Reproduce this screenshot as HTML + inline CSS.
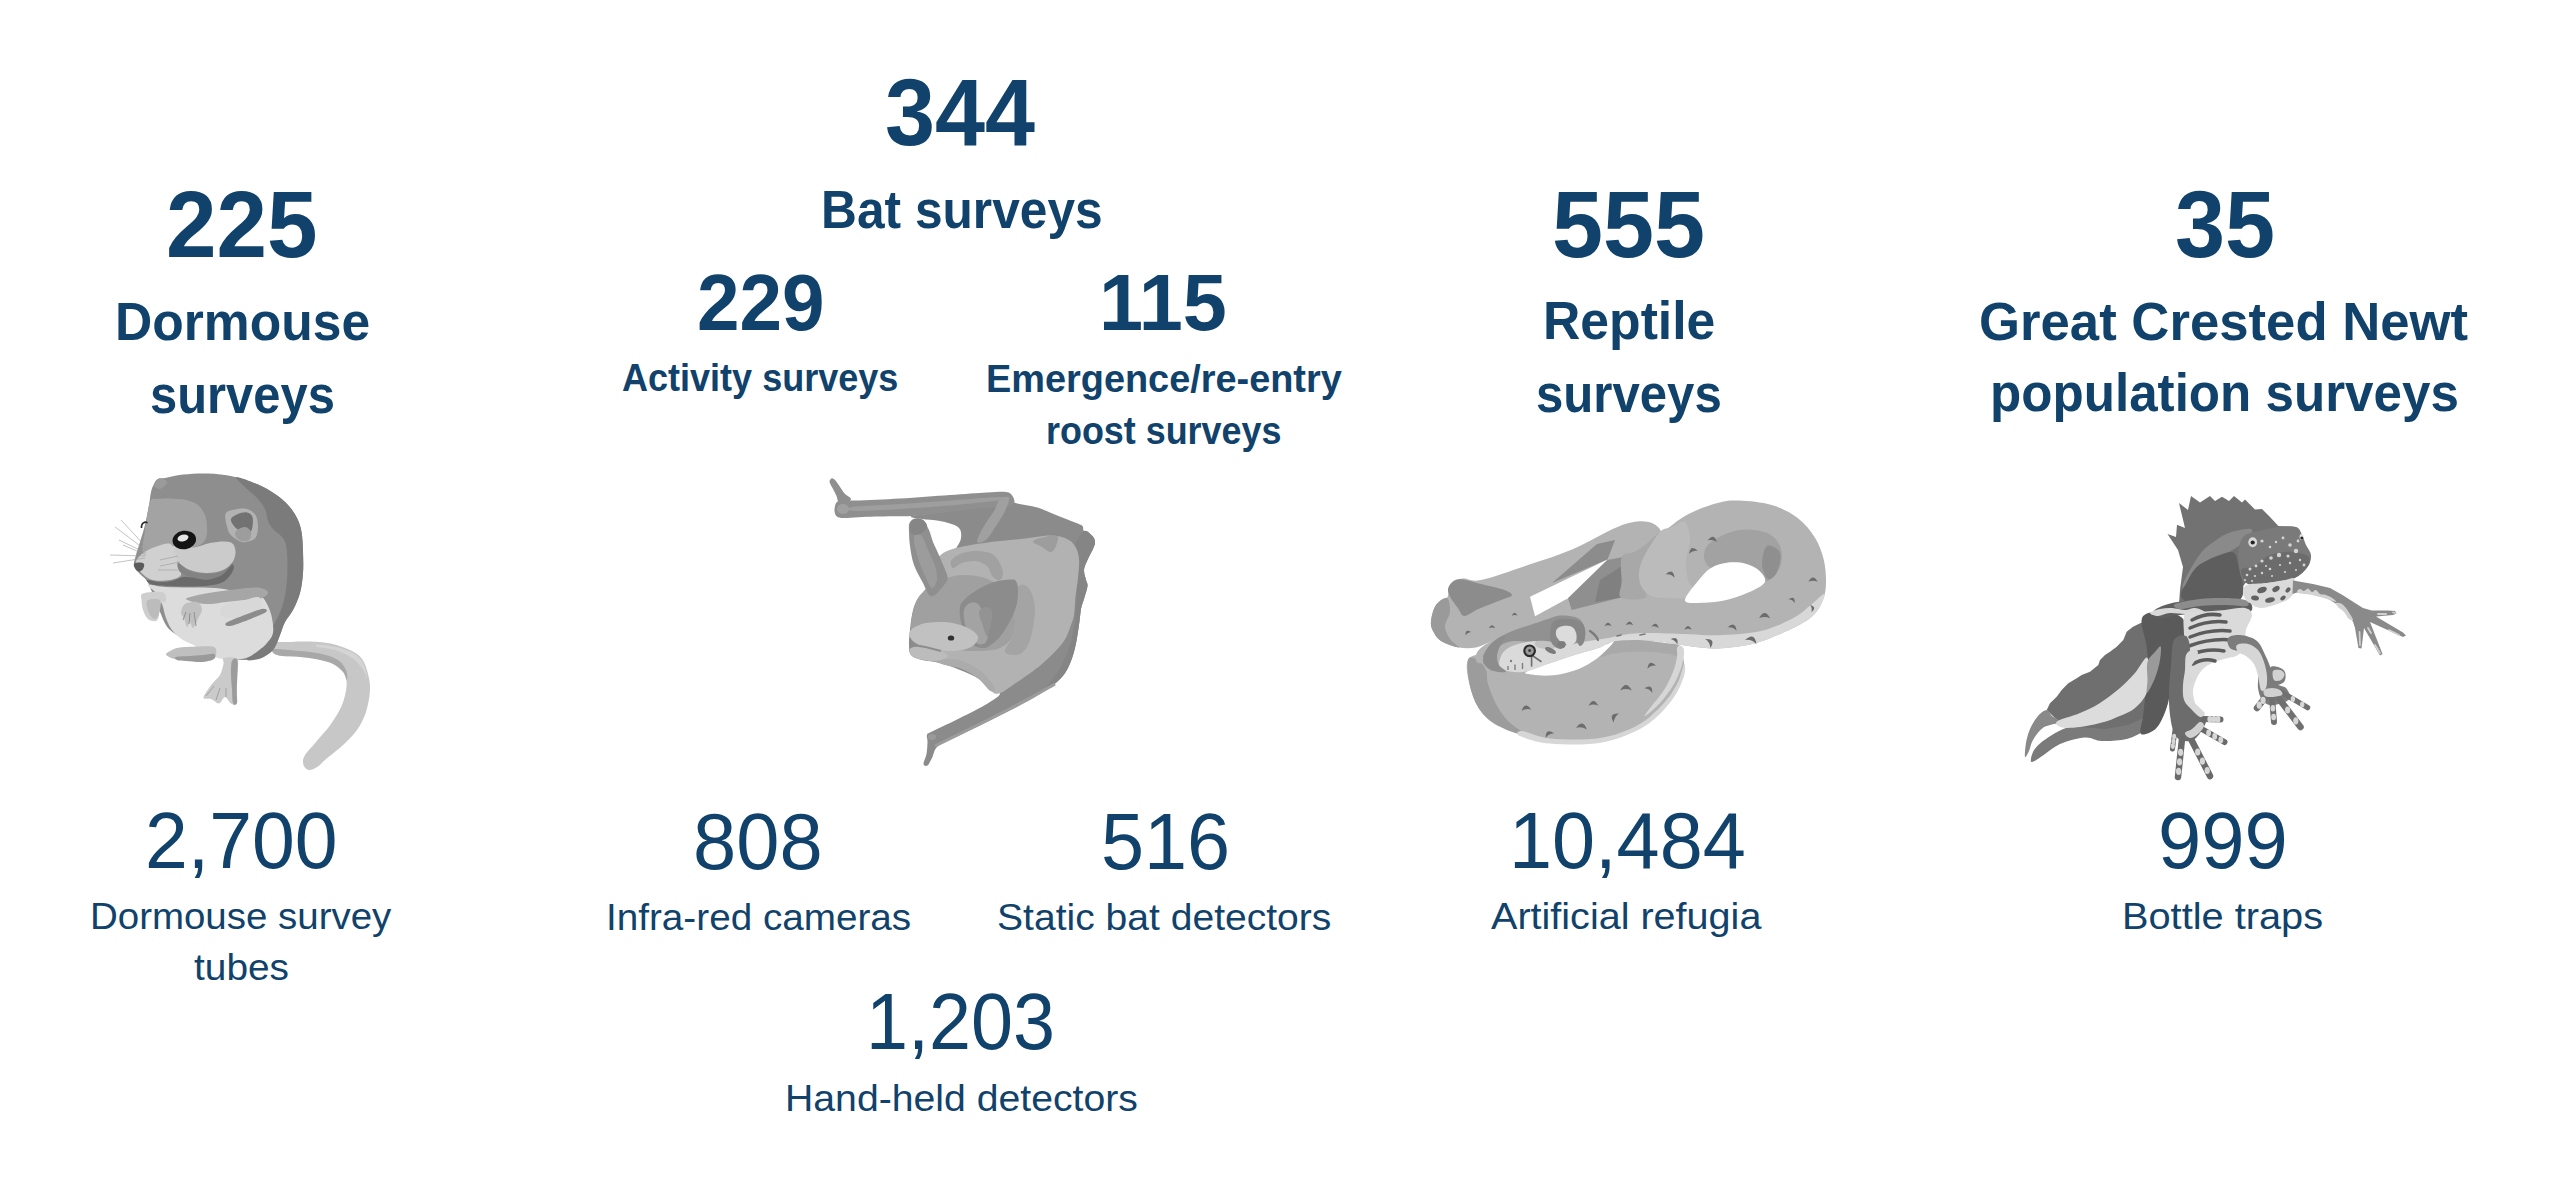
<!DOCTYPE html>
<html><head><meta charset="utf-8"><title>Survey statistics</title>
<style>
html,body{margin:0;padding:0;background:#fff;}
body{width:2560px;height:1199px;position:relative;overflow:hidden;font-family:"Liberation Sans",sans-serif;color:#10426b;}
.b,.r{position:absolute;white-space:nowrap;line-height:1;transform-origin:0 0;}
.b{font-weight:bold;}
.r{font-weight:normal;}
svg{position:absolute;}
</style></head><body>
<div class="b" style="left:885.2px;top:64.6px;font-size:95.0px;transform:scaleX(0.9460)">344</div>
<div class="b" style="left:165.9px;top:176.9px;font-size:95.0px;transform:scaleX(0.9558)">225</div>
<div class="b" style="left:1552.2px;top:176.6px;font-size:95.0px;transform:scaleX(0.9663)">555</div>
<div class="b" style="left:2175.0px;top:176.6px;font-size:95.0px;transform:scaleX(0.9468)">35</div>
<div class="b" style="left:821.0px;top:182.7px;font-size:53.6px;transform:scaleX(0.9272)">Bat surveys</div>
<div class="b" style="left:114.5px;top:295.0px;font-size:53.6px;transform:scaleX(0.9629)">Dormouse</div>
<div class="b" style="left:149.5px;top:367.6px;font-size:53.6px;transform:scaleX(0.9121)">surveys</div>
<div class="b" style="left:1542.7px;top:294.4px;font-size:53.6px;transform:scaleX(0.9645)">Reptile</div>
<div class="b" style="left:1536.0px;top:366.6px;font-size:53.6px;transform:scaleX(0.9166)">surveys</div>
<div class="b" style="left:1978.7px;top:295.1px;font-size:53.6px;transform:scaleX(0.9834)">Great Crested Newt</div>
<div class="b" style="left:1989.9px;top:365.6px;font-size:53.6px;transform:scaleX(0.9542)">population surveys</div>
<div class="b" style="left:696.5px;top:263.1px;font-size:79.0px;transform:scaleX(0.9678)">229</div>
<div class="b" style="left:1099.2px;top:263.1px;font-size:79.0px;transform:scaleX(1.0030)">115</div>
<div class="b" style="left:621.8px;top:359.2px;font-size:38.8px;transform:scaleX(0.9287)">Activity surveys</div>
<div class="b" style="left:985.7px;top:359.7px;font-size:38.8px;transform:scaleX(0.9763)">Emergence/re-entry</div>
<div class="b" style="left:1045.8px;top:412.2px;font-size:38.8px;transform:scaleX(0.9253)">roost surveys</div>
<div class="r" style="left:145.2px;top:800.8px;font-size:79.7px;transform:scaleX(0.9658)">2,700</div>
<div class="r" style="left:693.2px;top:801.5px;font-size:79.7px;transform:scaleX(0.9747)">808</div>
<div class="r" style="left:1100.5px;top:801.5px;font-size:79.7px;transform:scaleX(0.9716)">516</div>
<div class="r" style="left:1508.6px;top:801.2px;font-size:79.7px;transform:scaleX(0.9712)">10,484</div>
<div class="r" style="left:2157.9px;top:801.2px;font-size:79.7px;transform:scaleX(0.9753)">999</div>
<div class="r" style="left:866.4px;top:982.3px;font-size:79.7px;transform:scaleX(0.9482)">1,203</div>
<div class="r" style="left:90.2px;top:898.2px;font-size:37.6px;transform:scaleX(1.0232)">Dormouse survey</div>
<div class="r" style="left:193.6px;top:949.0px;font-size:37.6px;transform:scaleX(1.0334)">tubes</div>
<div class="r" style="left:605.8px;top:898.8px;font-size:37.6px;transform:scaleX(1.0290)">Infra-red cameras</div>
<div class="r" style="left:997.4px;top:898.8px;font-size:37.6px;transform:scaleX(1.0394)">Static bat detectors</div>
<div class="r" style="left:1491.3px;top:898.2px;font-size:37.6px;transform:scaleX(1.0526)">Artificial refugia</div>
<div class="r" style="left:2121.8px;top:898.2px;font-size:37.6px;transform:scaleX(1.0578)">Bottle traps</div>
<div class="r" style="left:784.7px;top:1080.2px;font-size:37.6px;transform:scaleX(1.0429)">Hand-held detectors</div>
<svg style="left:0;top:0" width="2560" height="1199" viewBox="0 0 2560 1199">
<g><path fill="#c7c7c7" d="M272.0,643.0 C274.3,641.2 281.5,642.2 287.0,642.0 C292.5,641.8 298.2,641.3 305.0,641.5 C311.8,641.7 320.2,641.6 327.7,643.0 C335.2,644.4 344.3,647.3 350.0,650.0 C355.7,652.7 359.0,655.0 362.0,659.0 C365.0,663.0 366.7,668.8 368.0,674.0 C369.3,679.2 370.3,683.7 370.0,690.0 C369.7,696.3 368.2,705.3 366.0,712.0 C363.8,718.7 361.0,724.3 357.0,730.0 C353.0,735.7 347.2,741.2 342.0,746.0 C336.8,750.8 330.0,755.6 326.0,759.0 C322.0,762.4 320.8,764.7 318.0,766.5 C315.2,768.3 311.4,770.2 309.0,770.0 C306.6,769.8 304.2,767.3 303.5,765.0 C302.8,762.7 302.4,759.8 304.5,756.0 C306.6,752.2 311.6,747.3 316.0,742.0 C320.4,736.7 326.7,730.2 331.0,724.0 C335.3,717.8 339.4,711.2 342.0,705.0 C344.6,698.8 346.0,692.0 346.5,687.0 C347.0,682.0 346.2,678.5 345.0,675.0 C343.8,671.5 342.0,668.6 339.0,666.0 C336.0,663.4 332.7,661.1 327.0,659.5 C321.3,657.9 312.3,657.1 305.0,656.5 C297.7,655.9 288.3,656.6 283.0,656.0 C277.7,655.4 274.8,655.2 273.0,653.0 C271.2,650.8 269.7,644.8 272.0,643.0Z"/>
<path fill="#a8a8a8" d="M274.0,649.0 C278.3,648.7 292.0,650.2 300.0,651.0 C308.0,651.8 315.7,652.5 322.0,654.0 C328.3,655.5 334.0,657.3 338.0,660.0 C342.0,662.7 344.5,666.7 346.0,670.0 C347.5,673.3 347.5,679.7 347.0,680.0 C346.5,680.3 345.3,674.7 343.0,672.0 C340.7,669.3 337.2,666.1 333.0,664.0 C328.8,661.9 323.5,660.7 318.0,659.5 C312.5,658.3 306.0,657.6 300.0,657.0 C294.0,656.4 286.3,656.7 282.0,656.0 C277.7,655.3 275.3,654.2 274.0,653.0 C272.7,651.8 269.7,649.3 274.0,649.0Z"/>
<path fill="#d4d4d4" d="M318.0,644.5 C321.7,644.7 333.7,646.2 340.0,648.0 C346.3,649.8 352.0,652.2 356.0,655.0 C360.0,657.8 362.2,661.2 364.0,665.0 C365.8,668.8 367.3,677.5 367.0,678.0 C366.7,678.5 364.5,671.3 362.0,668.0 C359.5,664.7 356.5,661.0 352.0,658.0 C347.5,655.0 340.7,651.8 335.0,650.0 C329.3,648.2 320.8,647.9 318.0,647.0 C315.2,646.1 314.3,644.3 318.0,644.5Z"/>
<path fill="#8e8e8e" d="M154.0,484.0 C155.2,481.8 156.2,480.0 158.0,479.0 C159.8,478.0 160.8,478.8 165.0,478.0 C169.2,477.2 175.8,475.2 183.0,474.5 C190.2,473.8 199.7,473.2 208.0,473.5 C216.3,473.8 224.7,474.7 233.0,476.5 C241.3,478.3 251.0,481.6 258.0,484.5 C265.0,487.4 270.0,490.6 275.0,494.0 C280.0,497.4 284.3,501.0 288.0,505.0 C291.7,509.0 294.8,513.5 297.0,518.0 C299.2,522.5 300.5,526.3 301.5,532.0 C302.5,537.7 302.8,545.2 303.0,552.0 C303.2,558.8 303.5,566.2 303.0,573.0 C302.5,579.8 301.7,586.8 300.0,593.0 C298.3,599.2 295.5,605.2 293.0,610.0 C290.5,614.8 287.2,617.8 285.0,622.0 C282.8,626.2 281.5,631.2 280.0,635.0 C278.5,638.8 277.5,642.2 276.0,645.0 C274.5,647.8 273.7,649.8 271.0,652.0 C268.3,654.2 264.3,657.2 260.0,658.5 C255.7,659.8 250.0,659.9 245.0,660.0 C240.0,660.1 235.0,659.7 230.0,659.0 C225.0,658.3 220.8,658.3 215.0,656.0 C209.2,653.7 202.5,649.3 195.0,645.0 C187.5,640.7 175.8,635.5 170.0,630.0 C164.2,624.5 163.0,618.3 160.0,612.0 C157.0,605.7 154.2,597.2 152.0,592.0 C149.8,586.8 149.0,584.0 147.0,581.0 C145.0,578.0 142.2,576.5 140.0,574.0 C137.8,571.5 134.7,569.2 134.0,566.0 C133.3,562.8 135.0,559.0 136.0,555.0 C137.0,551.0 138.5,547.0 140.0,542.0 C141.5,537.0 143.5,531.2 145.0,525.0 C146.5,518.8 148.0,510.5 149.0,505.0 C150.0,499.5 150.2,495.5 151.0,492.0 C151.8,488.5 152.8,486.2 154.0,484.0Z"/>
<path fill="#7b7b7b" d="M236.0,477.0 C237.8,476.2 251.5,481.7 258.0,484.5 C264.5,487.3 270.0,490.6 275.0,494.0 C280.0,497.4 284.3,501.0 288.0,505.0 C291.7,509.0 294.8,513.5 297.0,518.0 C299.2,522.5 300.5,526.3 301.5,532.0 C302.5,537.7 302.8,545.2 303.0,552.0 C303.2,558.8 303.5,566.2 303.0,573.0 C302.5,579.8 301.7,586.8 300.0,593.0 C298.3,599.2 295.5,605.2 293.0,610.0 C290.5,614.8 287.2,617.8 285.0,622.0 C282.8,626.2 281.5,631.2 280.0,635.0 C278.5,638.8 277.5,642.2 276.0,645.0 C274.5,647.8 273.7,649.8 271.0,652.0 C268.3,654.2 264.0,657.2 260.0,658.5 C256.0,659.8 248.3,661.1 247.0,660.0 C245.7,658.9 249.5,655.0 252.0,652.0 C254.5,649.0 258.7,646.0 262.0,642.0 C265.3,638.0 268.8,633.3 272.0,628.0 C275.2,622.7 278.7,616.3 281.0,610.0 C283.3,603.7 284.9,597.5 286.0,590.0 C287.1,582.5 287.5,572.5 287.5,565.0 C287.5,557.5 287.1,549.8 286.0,545.0 C284.9,540.2 283.2,538.7 281.0,536.0 C278.8,533.3 275.2,531.5 273.0,529.0 C270.8,526.5 269.3,524.3 268.0,521.0 C266.7,517.7 266.8,512.8 265.0,509.0 C263.2,505.2 260.0,501.3 257.0,498.0 C254.0,494.7 250.5,492.5 247.0,489.0 C243.5,485.5 234.2,477.8 236.0,477.0Z"/>
<path fill="#a3a3a3" d="M150.0,502.0 C152.0,496.8 153.7,499.6 157.0,499.0 C160.3,498.4 165.2,498.3 170.0,498.5 C174.8,498.7 181.3,498.9 186.0,500.0 C190.7,501.1 194.8,502.5 198.0,505.0 C201.2,507.5 203.5,511.3 205.0,515.0 C206.5,518.7 206.8,523.2 207.0,527.0 C207.2,530.8 207.2,535.0 206.0,538.0 C204.8,541.0 203.5,543.3 200.0,545.0 C196.5,546.7 190.0,547.7 185.0,548.0 C180.0,548.3 175.0,547.0 170.0,547.0 C165.0,547.0 159.5,547.2 155.0,548.0 C150.5,548.8 144.7,555.0 143.0,552.0 C141.3,549.0 143.8,538.3 145.0,530.0 C146.2,521.7 148.0,507.2 150.0,502.0Z"/>
<path fill="#cbcbcb" d="M173.0,546.0 C176.4,545.2 186.8,548.0 193.0,547.5 C199.2,547.0 204.7,544.0 210.0,543.0 C215.3,542.0 221.2,541.3 225.0,541.5 C228.8,541.7 231.2,542.1 233.0,544.0 C234.8,545.9 235.7,549.8 235.5,553.0 C235.3,556.2 234.1,560.2 232.0,563.0 C229.9,565.8 227.2,568.3 223.0,570.0 C218.8,571.7 212.5,573.0 207.0,573.0 C201.5,573.0 194.8,571.8 190.0,570.0 C185.2,568.2 180.9,565.0 178.0,562.0 C175.1,559.0 173.3,554.7 172.5,552.0 C171.7,549.3 169.6,546.8 173.0,546.0Z"/>
<path fill="#d0d0d0" d="M136.0,562.0 C136.5,559.0 139.8,555.5 143.0,553.0 C146.2,550.5 150.7,548.6 155.0,547.0 C159.3,545.4 165.8,543.0 169.0,543.5 C172.2,544.0 172.5,546.8 174.0,550.0 C175.5,553.2 176.8,558.8 178.0,563.0 C179.2,567.2 182.3,572.2 181.0,575.0 C179.7,577.8 174.3,579.1 170.0,580.0 C165.7,580.9 158.8,580.9 155.0,580.5 C151.2,580.1 149.5,579.1 147.0,577.5 C144.5,575.9 141.8,573.6 140.0,571.0 C138.2,568.4 135.5,565.0 136.0,562.0Z"/>
<path fill="#838383" d="M178.0,563.0 C179.7,562.8 185.2,569.2 190.0,571.0 C194.8,572.8 201.5,574.0 207.0,574.0 C212.5,574.0 218.8,572.8 223.0,571.0 C227.2,569.2 231.2,563.2 232.5,563.0 C233.8,562.8 232.8,567.7 231.0,570.0 C229.2,572.3 226.0,575.5 222.0,577.0 C218.0,578.5 212.3,579.0 207.0,579.0 C201.7,579.0 194.5,578.2 190.0,577.0 C185.5,575.8 182.0,574.3 180.0,572.0 C178.0,569.7 176.3,563.2 178.0,563.0Z"/>
<path fill="#6a6a6a" d="M147.0,580.0 C148.3,579.6 155.8,581.8 160.0,582.0 C164.2,582.2 168.2,581.8 172.0,581.0 C175.8,580.2 179.2,577.5 183.0,577.0 C186.8,576.5 190.8,577.6 195.0,578.0 C199.2,578.4 203.5,580.0 208.0,579.5 C212.5,579.0 218.0,577.4 222.0,575.0 C226.0,572.6 230.1,566.0 232.0,565.0 C233.9,564.0 234.2,566.8 233.5,569.0 C232.8,571.2 230.6,575.5 228.0,578.0 C225.4,580.5 223.5,582.6 218.0,584.0 C212.5,585.4 203.0,586.2 195.0,586.5 C187.0,586.8 177.2,586.3 170.0,586.0 C162.8,585.7 155.8,585.5 152.0,584.5 C148.2,583.5 145.7,580.4 147.0,580.0Z"/>
<path fill="#dcdcdc" d="M148.0,585.0 C149.5,584.0 158.0,586.6 165.0,587.0 C172.0,587.4 181.7,587.3 190.0,587.5 C198.3,587.7 207.5,587.4 215.0,588.0 C222.5,588.6 228.8,590.0 235.0,591.0 C241.2,592.0 247.5,593.0 252.0,594.0 C256.5,595.0 259.3,595.0 262.0,597.0 C264.7,599.0 266.3,602.5 268.0,606.0 C269.7,609.5 271.2,613.5 272.0,618.0 C272.8,622.5 273.8,628.8 273.0,633.0 C272.2,637.2 269.5,640.0 267.0,643.0 C264.5,646.0 261.5,648.5 258.0,651.0 C254.5,653.5 250.7,656.6 246.0,658.0 C241.3,659.4 235.2,659.7 230.0,659.5 C224.8,659.3 220.0,658.9 215.0,657.0 C210.0,655.1 205.3,650.8 200.0,648.0 C194.7,645.2 187.7,643.0 183.0,640.0 C178.3,637.0 174.8,633.7 172.0,630.0 C169.2,626.3 167.7,622.3 166.0,618.0 C164.3,613.7 163.7,608.2 162.0,604.0 C160.3,599.8 158.3,596.2 156.0,593.0 C153.7,589.8 146.5,586.0 148.0,585.0Z"/>
<path fill="#a6a6a6" d="M186.0,599.0 C186.0,597.7 193.2,596.2 198.0,595.0 C202.8,593.8 208.3,593.0 215.0,592.0 C221.7,591.0 230.8,589.8 238.0,589.0 C245.2,588.2 253.0,587.0 258.0,587.5 C263.0,588.0 267.3,590.2 268.0,592.0 C268.7,593.8 265.8,596.7 262.0,598.0 C258.2,599.3 251.0,599.3 245.0,600.0 C239.0,600.7 231.8,601.3 226.0,602.0 C220.2,602.7 214.7,603.8 210.0,604.0 C205.3,604.2 202.0,603.8 198.0,603.0 C194.0,602.2 186.0,600.3 186.0,599.0Z"/>
<path fill="#d8d8d8" d="M226.0,604.0 C230.2,602.0 239.7,601.2 245.0,600.0 C250.3,598.8 255.2,596.3 258.0,597.0 C260.8,597.7 262.5,601.5 262.0,604.0 C261.5,606.5 258.7,609.8 255.0,612.0 C251.3,614.2 244.8,616.0 240.0,617.0 C235.2,618.0 229.3,618.8 226.0,618.0 C222.7,617.2 220.0,614.3 220.0,612.0 C220.0,609.7 221.8,606.0 226.0,604.0Z"/>
<path fill="#8c8c8c" d="M226.0,623.0 C228.0,621.3 236.0,618.3 242.0,616.0 C248.0,613.7 258.0,609.7 262.0,609.0 C266.0,608.3 268.3,610.2 266.0,612.0 C263.7,613.8 254.0,617.7 248.0,620.0 C242.0,622.3 233.7,625.5 230.0,626.0 C226.3,626.5 224.0,624.7 226.0,623.0Z"/>
<path fill="#c0c0c0" d="M185.0,604.0 C187.7,602.2 194.2,601.2 197.0,602.0 C199.8,602.8 201.8,606.2 202.0,609.0 C202.2,611.8 199.5,615.8 198.0,619.0 C196.5,622.2 194.3,627.5 193.0,628.0 C191.7,628.5 191.0,622.2 190.0,622.0 C189.0,621.8 188.0,627.7 187.0,627.0 C186.0,626.3 185.0,620.3 184.0,618.0 C183.0,615.7 180.8,615.3 181.0,613.0 C181.2,610.7 182.3,605.8 185.0,604.0Z"/>
<path d="M186,612 L183,620 M190,613 L189,624 M194,612 L196,626" stroke="#8a8a8a" stroke-width="0.9" fill="none"/>
<path fill="#cecece" d="M142.0,594.0 C143.8,592.7 148.3,592.2 152.0,592.0 C155.7,591.8 161.7,591.5 164.0,593.0 C166.3,594.5 166.7,599.2 166.0,601.0 C165.3,602.8 161.2,601.7 160.0,604.0 C158.8,606.3 159.7,612.2 159.0,615.0 C158.3,617.8 157.8,620.3 156.0,621.0 C154.2,621.7 150.2,620.8 148.0,619.0 C145.8,617.2 144.1,613.2 143.0,610.0 C141.9,606.8 141.7,602.7 141.5,600.0 C141.3,597.3 140.2,595.3 142.0,594.0Z"/>
<path fill="#bcbcbc" d="M148.0,600.0 C150.2,598.9 158.2,598.2 160.0,600.5 C161.8,602.8 159.8,610.9 159.0,614.0 C158.2,617.1 156.5,618.8 155.0,619.0 C153.5,619.2 151.3,617.0 150.0,615.0 C148.7,613.0 147.3,609.5 147.0,607.0 C146.7,604.5 145.8,601.1 148.0,600.0Z"/>
<path fill="#bfbfbf" d="M166.0,654.0 C166.3,652.8 169.7,651.1 172.0,650.0 C174.3,648.9 175.3,648.1 180.0,647.5 C184.7,646.9 194.2,646.5 200.0,646.5 C205.8,646.5 212.6,645.6 215.0,647.5 C217.4,649.4 216.2,655.7 214.5,658.0 C212.8,660.3 208.8,661.0 205.0,661.5 C201.2,662.0 196.2,661.3 192.0,661.0 C187.8,660.7 182.8,659.8 180.0,659.5 C177.2,659.2 176.7,659.3 175.0,659.0 C173.3,658.7 171.5,658.3 170.0,657.5 C168.5,656.7 165.7,655.2 166.0,654.0Z"/>
<path fill="#9a9a9a" d="M176.0,657.0 C178.2,656.3 185.5,656.3 190.0,656.0 C194.5,655.7 199.0,655.3 203.0,655.0 C207.0,654.7 212.2,653.3 214.0,654.0 C215.8,654.7 216.0,657.7 214.0,659.0 C212.0,660.3 206.7,661.7 202.0,662.0 C197.3,662.3 190.2,661.3 186.0,661.0 C181.8,660.7 178.7,660.7 177.0,660.0 C175.3,659.3 173.8,657.7 176.0,657.0Z"/>
<path fill="#cacaca" d="M224.0,658.0 C226.3,657.2 235.4,656.2 237.5,659.5 C239.6,662.8 236.7,670.8 236.5,678.0 C236.3,685.2 237.4,698.8 236.5,703.0 C235.6,707.2 232.9,704.5 231.0,703.5 C229.1,702.5 227.0,697.0 225.0,697.0 C223.0,697.0 221.3,703.2 219.0,703.5 C216.7,703.8 213.6,700.0 211.0,699.0 C208.4,698.0 203.3,700.0 203.5,697.5 C203.7,695.0 209.2,687.8 212.0,684.0 C214.8,680.2 218.1,678.3 220.0,675.0 C221.9,671.7 222.8,666.8 223.5,664.0 C224.2,661.2 221.7,658.8 224.0,658.0Z"/>
<path fill="#9c9c9c" d="M232.0,661.0 C233.1,658.7 236.7,656.2 237.5,661.0 C238.3,665.8 236.9,683.0 236.8,690.0 C236.7,697.0 237.6,700.8 237.0,703.0 C236.4,705.2 233.8,705.2 233.0,703.0 C232.2,700.8 232.3,694.7 232.0,690.0 C231.7,685.3 231.0,679.8 231.0,675.0 C231.0,670.2 230.9,663.3 232.0,661.0Z"/>
<path d="M214,686 L206,696 M220,688 L216,700 M226,688 L226,697" stroke="#a0a0a0" stroke-width="1" fill="none"/>
<path fill="#b2b2b2" d="M225.5,514.0 C226.7,510.6 231.4,510.3 235.0,509.5 C238.6,508.7 243.6,508.1 247.0,509.0 C250.4,509.9 253.7,512.2 255.5,515.0 C257.3,517.8 257.9,522.3 258.0,526.0 C258.1,529.7 257.3,534.5 256.0,537.0 C254.7,539.5 252.3,540.2 250.0,541.0 C247.7,541.8 244.8,542.7 242.0,542.0 C239.2,541.3 235.3,539.0 233.0,537.0 C230.7,535.0 229.2,533.8 228.0,530.0 C226.8,526.2 224.3,517.4 225.5,514.0Z"/>
<path fill="#727272" d="M231.0,519.0 C231.7,517.0 235.3,515.1 238.0,514.0 C240.7,512.9 244.6,512.0 247.0,512.5 C249.4,513.0 251.7,514.2 252.5,517.0 C253.3,519.8 252.9,526.2 252.0,529.0 C251.1,531.8 249.0,533.7 247.0,534.0 C245.0,534.3 242.2,532.3 240.0,531.0 C237.8,529.7 235.5,528.0 234.0,526.0 C232.5,524.0 230.3,521.0 231.0,519.0Z"/>
<path fill="#9d9d9d" d="M236.0,531.0 C237.5,529.3 242.5,526.8 245.0,527.0 C247.5,527.2 250.3,529.8 251.0,532.0 C251.7,534.2 250.5,538.5 249.0,540.0 C247.5,541.5 244.2,541.5 242.0,541.0 C239.8,540.5 237.0,538.7 236.0,537.0 C235.0,535.3 234.5,532.7 236.0,531.0Z"/>
<path fill="#9a9a9a" d="M154.0,486.0 C153.5,484.4 155.5,480.8 157.0,479.5 C158.5,478.2 161.3,477.9 163.0,478.5 C164.7,479.1 167.5,481.2 167.0,483.0 C166.5,484.8 162.2,488.5 160.0,489.0 C157.8,489.5 154.5,487.6 154.0,486.0Z"/>
<ellipse cx="184.3" cy="540" rx="11.8" ry="9.3" fill="#141414" transform="rotate(-8 184.3 540)"/>
<ellipse cx="183" cy="538" rx="5.6" ry="3.3" fill="#e6e6e6" transform="rotate(-15 183 538)"/>
<path d="M141.5,528 C141,523 145,521 147.5,523" stroke="#2a2a2a" stroke-width="1.6" fill="none"/>
<path fill="#5c5c5c" d="M134.0,564.0 C134.7,562.9 137.8,562.5 139.5,562.5 C141.2,562.5 143.4,562.9 144.0,564.0 C144.6,565.1 143.8,567.8 143.0,569.0 C142.2,570.2 140.2,571.5 139.0,571.5 C137.8,571.5 136.3,570.2 135.5,569.0 C134.7,567.8 133.3,565.1 134.0,564.0Z"/>
<g stroke="#9a9a9a" stroke-width="0.6" fill="none"><path d="M148,549 L121,520"/><path d="M147,551 L115,527"/><path d="M146,553 L119,540"/><path d="M145,556 L110,555"/><path d="M145,558 L113,563"/><path d="M146,555 L123,545"/><path d="M160,560 L178,556"/><path d="M160,566 L180,562"/><path d="M158,570 L178,570"/></g></g>
<g><path fill="#8b8b8b" d="M912.0,516.0 C916.7,514.7 935.3,513.7 950.0,511.0 C964.7,508.3 990.0,502.5 1000.0,500.0 C1010.0,497.5 1007.7,495.6 1010.0,496.0 C1012.3,496.4 1009.4,500.6 1014.0,502.5 C1018.6,504.4 1030.5,505.4 1037.5,507.5 C1044.5,509.6 1049.8,512.5 1056.0,515.0 C1062.2,517.5 1070.6,520.7 1075.0,522.5 C1079.4,524.3 1081.0,524.6 1082.5,526.0 C1084.0,527.4 1082.3,529.3 1084.0,531.0 C1085.7,532.7 1090.7,534.1 1092.5,536.0 C1094.3,537.9 1095.0,540.2 1095.0,542.5 C1095.0,544.8 1093.8,547.1 1092.5,550.0 C1091.2,552.9 1088.9,556.7 1087.5,560.0 C1086.1,563.3 1084.2,566.7 1084.0,570.0 C1083.8,573.3 1085.4,577.3 1086.0,580.0 C1086.6,582.7 1087.8,582.8 1087.5,586.0 C1087.2,589.2 1085.1,595.2 1084.0,599.0 C1082.9,602.8 1081.8,604.7 1081.0,609.0 C1080.2,613.3 1080.0,618.5 1079.0,625.0 C1078.0,631.5 1076.8,640.8 1075.0,648.0 C1073.2,655.2 1070.8,662.5 1068.0,668.0 C1065.2,673.5 1062.7,676.7 1058.0,681.0 C1053.3,685.3 1047.5,689.3 1040.0,694.0 C1032.5,698.7 1022.2,704.2 1013.0,709.0 C1003.8,713.8 994.2,718.5 985.0,723.0 C975.8,727.5 965.8,732.2 958.0,736.0 C950.2,739.8 942.3,742.3 938.0,746.0 C933.7,749.7 933.8,754.8 932.0,758.0 C930.2,761.2 928.9,764.5 927.5,765.5 C926.1,766.5 923.7,765.9 923.5,764.0 C923.3,762.1 925.8,757.7 926.5,754.0 C927.2,750.3 927.4,745.2 927.5,742.0 C927.6,738.8 926.4,736.7 927.0,735.0 C927.6,733.3 926.2,734.5 931.0,732.0 C935.8,729.5 947.0,724.5 956.0,720.0 C965.0,715.5 977.7,709.3 985.0,705.0 C992.3,700.7 999.2,696.5 1000.0,694.0 C1000.8,691.5 993.5,692.5 990.0,690.0 C986.5,687.5 984.0,682.3 979.0,679.0 C974.0,675.7 966.5,672.7 960.0,670.0 C953.5,667.3 946.3,664.7 940.0,663.0 C933.7,661.3 926.8,661.3 922.0,660.0 C917.2,658.7 913.2,657.7 911.0,655.0 C908.8,652.3 909.2,648.2 909.0,644.0 C908.8,639.8 909.5,634.8 910.0,630.0 C910.5,625.2 911.0,619.7 912.0,615.0 C913.0,610.3 913.8,606.2 916.0,602.0 C918.2,597.8 921.0,595.0 925.0,590.0 C929.0,585.0 935.0,578.7 940.0,572.0 C945.0,565.3 951.5,555.7 955.0,550.0 C958.5,544.3 960.5,541.8 961.0,538.0 C961.5,534.2 961.5,529.8 958.0,527.0 C954.5,524.2 946.0,522.3 940.0,521.0 C934.0,519.7 926.7,519.8 922.0,519.0 C917.3,518.2 907.3,517.3 912.0,516.0Z"/>
<path fill="#858585" d="M1075.0,546.0 C1076.0,540.3 1081.1,532.7 1084.0,531.0 C1086.9,529.3 1090.7,534.1 1092.5,536.0 C1094.3,537.9 1095.0,540.2 1095.0,542.5 C1095.0,544.8 1093.8,547.1 1092.5,550.0 C1091.2,552.9 1088.9,556.7 1087.5,560.0 C1086.1,563.3 1084.2,566.7 1084.0,570.0 C1083.8,573.3 1085.4,577.3 1086.0,580.0 C1086.6,582.7 1087.8,582.8 1087.5,586.0 C1087.2,589.2 1085.1,595.2 1084.0,599.0 C1082.9,602.8 1081.8,604.7 1081.0,609.0 C1080.2,613.3 1080.0,618.5 1079.0,625.0 C1078.0,631.5 1076.8,640.8 1075.0,648.0 C1073.2,655.2 1070.8,662.5 1068.0,668.0 C1065.2,673.5 1061.8,677.3 1058.0,681.0 C1054.2,684.7 1044.7,692.2 1045.0,690.0 C1045.3,687.8 1055.8,675.5 1060.0,668.0 C1064.2,660.5 1067.5,653.0 1070.0,645.0 C1072.5,637.0 1073.8,629.2 1075.0,620.0 C1076.2,610.8 1076.5,599.2 1077.0,590.0 C1077.5,580.8 1078.3,572.3 1078.0,565.0 C1077.7,557.7 1074.0,551.7 1075.0,546.0Z"/>
<path fill="#b2b2b2" d="M938.0,558.0 C940.8,554.2 944.2,551.6 952.5,549.0 C960.8,546.4 975.4,544.2 987.5,542.5 C999.6,540.8 1014.6,539.7 1025.0,538.5 C1035.4,537.3 1043.2,535.5 1050.0,535.5 C1056.8,535.5 1061.8,536.8 1066.0,538.5 C1070.2,540.2 1072.8,542.6 1075.0,546.0 C1077.2,549.4 1078.5,553.7 1079.0,559.0 C1079.5,564.3 1078.6,571.8 1078.0,578.0 C1077.4,584.2 1076.2,589.8 1075.5,596.0 C1074.8,602.2 1074.8,610.2 1074.0,615.0 C1073.2,619.8 1072.8,620.4 1071.0,625.0 C1069.2,629.6 1067.8,636.0 1063.0,642.5 C1058.2,649.0 1050.3,656.9 1042.0,664.0 C1033.7,671.1 1020.2,680.1 1013.0,685.0 C1005.8,689.9 1002.7,692.5 999.0,693.5 C995.3,694.5 994.0,693.1 990.7,690.7 C987.4,688.3 983.3,682.5 979.0,679.0 C974.7,675.5 969.8,672.3 965.0,670.0 C960.2,667.7 955.0,666.5 950.0,665.0 C945.0,663.5 938.8,663.5 935.0,661.0 C931.2,658.5 927.8,655.2 927.0,650.0 C926.2,644.8 928.7,636.7 930.0,630.0 C931.3,623.3 933.8,616.7 935.0,610.0 C936.2,603.3 936.8,596.3 937.0,590.0 C937.2,583.7 935.8,577.3 936.0,572.0 C936.2,566.7 935.2,561.8 938.0,558.0Z"/>
<path fill="#9d9d9d" d="M1033.0,541.0 C1034.3,539.2 1045.8,536.7 1050.0,536.0 C1054.2,535.3 1057.2,535.0 1058.0,537.0 C1058.8,539.0 1056.3,545.5 1055.0,548.0 C1053.7,550.5 1052.2,552.2 1050.0,552.0 C1047.8,551.8 1044.8,548.8 1042.0,547.0 C1039.2,545.2 1031.7,542.8 1033.0,541.0Z"/>
<path fill="#a1a1a1" d="M951.0,561.0 C952.2,558.7 956.0,555.7 960.0,554.0 C964.0,552.3 970.0,551.2 975.0,551.0 C980.0,550.8 986.2,551.5 990.0,553.0 C993.8,554.5 995.8,556.8 998.0,560.0 C1000.2,563.2 1002.7,568.7 1003.0,572.0 C1003.3,575.3 1001.7,579.2 1000.0,580.0 C998.3,580.8 995.2,579.3 993.0,577.0 C990.8,574.7 990.0,568.7 987.0,566.0 C984.0,563.3 979.2,561.5 975.0,561.0 C970.8,560.5 965.7,561.8 962.0,563.0 C958.3,564.2 954.8,568.3 953.0,568.0 C951.2,567.7 949.8,563.3 951.0,561.0Z"/>
<path fill="#a0a0a0" d="M916.0,602.0 C918.3,596.2 921.8,593.3 925.0,590.0 C928.2,586.7 930.8,584.2 935.0,582.0 C939.2,579.8 945.0,578.2 950.0,577.0 C955.0,575.8 959.2,574.8 965.0,575.0 C970.8,575.2 979.2,576.0 985.0,578.0 C990.8,580.0 995.8,583.3 1000.0,587.0 C1004.2,590.7 1007.5,594.5 1010.0,600.0 C1012.5,605.5 1014.7,613.8 1015.0,620.0 C1015.3,626.2 1014.5,632.3 1012.0,637.0 C1009.5,641.7 1005.3,645.7 1000.0,648.0 C994.7,650.3 987.5,650.7 980.0,651.0 C972.5,651.3 963.0,650.5 955.0,650.0 C947.0,649.5 938.7,649.5 932.0,648.0 C925.3,646.5 918.5,644.8 915.0,641.0 C911.5,637.2 910.8,631.5 911.0,625.0 C911.2,618.5 913.7,607.8 916.0,602.0Z"/>
<path fill="#a4a4a4" d="M1010.0,600.0 C1010.8,594.2 1016.7,586.7 1020.0,585.0 C1023.3,583.3 1027.5,585.8 1030.0,590.0 C1032.5,594.2 1035.0,601.7 1035.0,610.0 C1035.0,618.3 1032.5,632.7 1030.0,640.0 C1027.5,647.3 1024.2,652.0 1020.0,654.0 C1015.8,656.0 1006.3,654.8 1005.0,652.0 C1003.7,649.2 1010.3,642.3 1012.0,637.0 C1013.7,631.7 1015.3,626.2 1015.0,620.0 C1014.7,613.8 1009.2,605.8 1010.0,600.0Z"/>
<path fill="#8c8c8c" d="M960.0,607.0 C960.7,603.2 962.2,601.8 965.0,599.0 C967.8,596.2 972.2,592.8 977.0,590.0 C981.8,587.2 988.5,583.8 994.0,582.0 C999.5,580.2 1006.3,579.7 1010.0,579.5 C1013.7,579.3 1014.7,579.2 1016.0,581.0 C1017.3,582.8 1017.8,586.3 1018.0,590.0 C1018.2,593.7 1017.8,598.8 1017.0,603.0 C1016.2,607.2 1014.8,610.8 1013.0,615.0 C1011.2,619.2 1008.3,624.2 1006.0,628.0 C1003.7,631.8 1001.3,635.3 999.0,638.0 C996.7,640.7 994.3,642.3 992.0,644.0 C989.7,645.7 988.0,647.8 985.0,648.0 C982.0,648.2 977.0,647.5 974.0,645.5 C971.0,643.5 969.2,639.9 967.0,636.0 C964.8,632.1 962.2,626.8 961.0,622.0 C959.8,617.2 959.3,610.8 960.0,607.0Z"/>
<path fill="#a3a3a3" d="M964.0,610.0 C964.8,606.5 967.7,604.0 970.0,603.0 C972.3,602.0 975.7,602.0 978.0,604.0 C980.3,606.0 982.3,610.7 984.0,615.0 C985.7,619.3 987.7,625.5 988.0,630.0 C988.3,634.5 987.7,639.7 986.0,642.0 C984.3,644.3 980.7,645.0 978.0,644.0 C975.3,643.0 972.2,639.3 970.0,636.0 C967.8,632.7 966.0,628.3 965.0,624.0 C964.0,619.7 963.2,613.5 964.0,610.0Z"/>
<path fill="#939393" d="M979.0,612.0 C979.5,608.8 983.8,607.2 986.0,607.0 C988.2,606.8 991.2,608.2 992.0,611.0 C992.8,613.8 991.8,619.8 991.0,624.0 C990.2,628.2 988.3,635.7 987.0,636.0 C985.7,636.3 984.3,630.0 983.0,626.0 C981.7,622.0 978.5,615.2 979.0,612.0Z"/>
<path fill="#8f8f8f" d="M909.5,523.0 C910.5,520.8 912.8,519.0 915.0,518.5 C917.2,518.0 920.7,518.1 923.0,520.0 C925.3,521.9 927.3,526.3 929.0,530.0 C930.7,533.7 931.5,538.2 933.0,542.0 C934.5,545.8 936.2,548.8 938.0,553.0 C939.8,557.2 942.4,562.7 944.0,567.0 C945.6,571.3 948.2,575.2 947.5,579.0 C946.8,582.8 942.2,587.2 940.0,590.0 C937.8,592.8 935.8,594.7 934.0,595.5 C932.2,596.3 930.8,597.1 929.0,595.0 C927.2,592.9 925.5,588.0 923.0,583.0 C920.5,578.0 916.2,571.2 914.0,565.0 C911.8,558.8 910.8,551.5 910.0,546.0 C909.2,540.5 909.1,535.8 909.0,532.0 C908.9,528.2 908.5,525.2 909.5,523.0Z"/>
<path fill="#9c9c9c" d="M914.0,537.0 C914.5,533.2 918.7,532.8 921.0,535.0 C923.3,537.2 925.7,544.8 928.0,550.0 C930.3,555.2 933.5,561.0 935.0,566.0 C936.5,571.0 937.5,576.3 937.0,580.0 C936.5,583.7 933.8,588.3 932.0,588.0 C930.2,587.7 928.3,583.0 926.0,578.0 C923.7,573.0 920.0,564.8 918.0,558.0 C916.0,551.2 913.5,540.8 914.0,537.0Z"/>
<path fill="#868686" d="M910.0,524.0 C910.5,521.5 912.8,519.7 915.0,519.0 C917.2,518.3 921.0,518.7 923.0,520.0 C925.0,521.3 927.5,524.7 927.0,527.0 C926.5,529.3 922.5,532.8 920.0,534.0 C917.5,535.2 913.7,535.7 912.0,534.0 C910.3,532.3 909.5,526.5 910.0,524.0Z"/>
<path fill="#8f8f8f" d="M831.0,480.0 C830.4,477.9 833.0,478.3 834.5,479.5 C836.0,480.7 838.1,484.2 840.0,487.0 C841.9,489.8 844.0,493.8 846.0,496.0 C848.0,498.2 843.0,500.1 852.0,500.5 C861.0,500.9 883.7,499.4 900.0,498.5 C916.3,497.6 935.5,496.0 950.0,495.0 C964.5,494.0 977.7,493.0 987.0,492.5 C996.3,492.0 1001.8,491.4 1006.0,492.0 C1010.2,492.6 1011.2,494.2 1012.5,496.0 C1013.8,497.8 1015.2,501.3 1014.0,503.0 C1012.8,504.7 1011.5,505.0 1005.0,506.0 C998.5,507.0 985.8,507.8 975.0,509.0 C964.2,510.2 950.5,511.8 940.0,513.0 C929.5,514.2 922.8,515.4 912.0,516.0 C901.2,516.6 886.2,516.2 875.0,516.5 C863.8,516.8 851.3,518.0 845.0,518.0 C838.7,518.0 838.8,517.7 837.0,516.5 C835.2,515.3 834.7,513.2 834.5,511.0 C834.3,508.8 835.0,504.9 836.0,503.0 C837.0,501.1 840.2,501.3 840.5,499.5 C840.8,497.7 839.6,495.2 838.0,492.0 C836.4,488.8 831.6,482.1 831.0,480.0Z"/>
<path fill="#8f8f8f" d="M829.5,481.5 C829.5,479.9 831.2,478.1 832.5,478.5 C833.8,478.9 835.6,481.6 837.5,484.0 C839.4,486.4 841.8,490.4 844.0,493.0 C846.2,495.6 851.7,497.5 851.0,499.5 C850.3,501.5 842.4,505.6 840.0,505.0 C837.6,504.4 837.8,498.8 836.5,496.0 C835.2,493.2 833.7,490.4 832.5,488.0 C831.3,485.6 829.5,483.1 829.5,481.5Z"/>
<path fill="#9e9e9e" d="M852.0,507.0 C859.5,505.8 883.7,505.1 900.0,504.0 C916.3,502.9 933.3,501.7 950.0,500.5 C966.7,499.3 990.7,497.2 1000.0,497.0 C1009.3,496.8 1014.3,498.1 1006.0,499.5 C997.7,500.9 967.7,503.9 950.0,505.5 C932.3,507.1 915.8,508.1 900.0,509.0 C884.2,509.9 863.0,511.3 855.0,511.0 C847.0,510.7 844.5,508.2 852.0,507.0Z"/>
<ellipse cx="843" cy="509" rx="6" ry="5" fill="#a0a0a0"/>
<path fill="#a0a0a0" d="M1000.0,499.0 C1002.5,496.8 1008.2,496.0 1009.0,498.0 C1009.8,500.0 1007.2,506.3 1005.0,511.0 C1002.8,515.7 999.2,521.2 996.0,526.0 C992.8,530.8 989.2,537.4 986.0,540.0 C982.8,542.6 977.3,543.8 977.0,541.5 C976.7,539.2 981.2,531.1 984.0,526.0 C986.8,520.9 991.3,515.5 994.0,511.0 C996.7,506.5 997.5,501.2 1000.0,499.0Z"/>
<path d="M935,746 C955,736 985,722 1015,706 C1030,698 1045,690 1055,684" stroke="#9c9c9c" stroke-width="3" fill="none"/>
<ellipse cx="932" cy="737" rx="4" ry="3" fill="#9a9a9a"/>
<path fill="#ababab" d="M933.0,660.0 C933.8,659.0 944.7,658.7 950.0,659.0 C955.3,659.3 959.7,659.8 965.0,662.0 C970.3,664.2 977.0,667.7 982.0,672.0 C987.0,676.3 993.7,684.9 995.0,688.0 C996.3,691.1 992.7,692.2 990.0,690.7 C987.3,689.2 983.7,682.6 979.0,679.0 C974.3,675.4 967.7,671.3 962.0,669.0 C956.3,666.7 949.8,666.5 945.0,665.0 C940.2,663.5 932.2,661.0 933.0,660.0Z"/>
<path fill="#c1c1c1" d="M910.0,631.0 C911.2,629.2 914.0,627.4 917.0,626.0 C920.0,624.6 922.6,623.3 928.0,622.7 C933.4,622.1 942.9,621.6 949.6,622.5 C956.3,623.4 963.3,625.6 968.0,628.0 C972.7,630.4 977.5,633.8 978.0,637.0 C978.5,640.2 975.0,644.7 971.0,647.0 C967.0,649.3 959.9,650.6 954.0,651.0 C948.1,651.4 941.6,650.8 935.4,649.6 C929.2,648.4 921.2,646.1 917.0,644.0 C912.8,641.9 911.2,639.2 910.0,637.0 C908.8,634.8 908.8,632.8 910.0,631.0Z"/>
<path fill="#bcbcbc" d="M911.0,648.0 C913.4,646.6 920.2,645.9 925.5,646.5 C930.8,647.1 938.8,649.8 942.5,651.5 C946.2,653.2 948.7,655.4 947.5,657.0 C946.3,658.6 939.8,660.6 935.4,661.0 C931.0,661.4 925.1,660.5 921.0,659.5 C916.9,658.5 912.7,656.9 911.0,655.0 C909.3,653.1 908.6,649.4 911.0,648.0Z"/>
<path d="M913,645 C922,646 932,648 941,651" stroke="#8d8d8d" stroke-width="2" fill="none"/>
<ellipse cx="951" cy="638" rx="3.2" ry="2.6" fill="#303030"/></g>
<g><path fill="#b3b3b3" d="M1468.0,660.0 C1464.8,666.0 1468.5,681.0 1471.0,690.0 C1473.5,699.0 1477.3,707.5 1483.0,714.0 C1488.7,720.5 1493.8,724.5 1505.0,729.0 C1516.2,733.5 1534.2,739.0 1550.0,741.0 C1565.8,743.0 1585.0,743.2 1600.0,741.0 C1615.0,738.8 1628.8,734.0 1640.0,728.0 C1651.2,722.0 1660.3,712.7 1667.0,705.0 C1673.7,697.3 1677.2,689.2 1680.0,682.0 C1682.8,674.8 1684.7,667.7 1684.0,662.0 C1683.3,656.3 1682.5,651.3 1676.0,648.0 C1669.5,644.7 1656.8,642.3 1645.0,642.0 C1633.2,641.7 1618.3,644.2 1605.0,646.0 C1591.7,647.8 1578.3,650.7 1565.0,653.0 C1551.7,655.3 1537.5,659.8 1525.0,660.0 C1512.5,660.2 1499.5,654.0 1490.0,654.0 C1480.5,654.0 1471.2,654.0 1468.0,660.0Z"/>
<path fill="#9c9c9c" d="M1468.0,660.0 C1466.8,665.0 1468.5,681.0 1471.0,690.0 C1473.5,699.0 1477.3,707.5 1483.0,714.0 C1488.7,720.5 1497.8,725.5 1505.0,729.0 C1512.2,732.5 1525.5,736.3 1526.0,735.0 C1526.5,733.7 1513.0,726.2 1508.0,721.0 C1503.0,715.8 1499.3,710.2 1496.0,704.0 C1492.7,697.8 1489.7,689.7 1488.0,684.0 C1486.3,678.3 1487.7,674.0 1486.0,670.0 C1484.3,666.0 1481.0,661.7 1478.0,660.0 C1475.0,658.3 1469.2,655.0 1468.0,660.0Z"/>
<path fill="#d6d6d6" d="M1522.0,731.0 C1527.0,731.4 1537.0,737.3 1550.0,738.5 C1563.0,739.7 1585.3,740.2 1600.0,738.0 C1614.7,735.8 1627.3,730.8 1638.0,725.0 C1648.7,719.2 1657.3,710.2 1664.0,703.0 C1670.7,695.8 1674.7,688.5 1678.0,682.0 C1681.3,675.5 1683.0,665.0 1684.0,664.0 C1685.0,663.0 1686.0,670.0 1684.0,676.0 C1682.0,682.0 1678.5,691.7 1672.0,700.0 C1665.5,708.3 1656.7,718.9 1645.0,726.0 C1633.3,733.1 1617.8,739.6 1602.0,742.5 C1586.2,745.4 1563.7,744.6 1550.0,743.5 C1536.3,742.4 1524.7,738.1 1520.0,736.0 C1515.3,733.9 1517.0,730.6 1522.0,731.0Z"/>
<path fill="#b3b3b3" d="M1431.0,621.0 C1431.5,616.7 1433.3,608.8 1436.0,605.0 C1438.7,601.2 1444.5,601.7 1447.0,598.0 C1449.5,594.3 1448.3,586.2 1451.0,583.0 C1453.7,579.8 1458.0,579.0 1463.0,578.5 C1468.0,578.0 1470.2,582.2 1481.0,580.0 C1491.8,577.8 1512.8,570.1 1528.0,565.0 C1543.2,559.9 1557.5,555.7 1572.0,549.5 C1586.5,543.3 1604.2,532.7 1615.0,528.0 C1625.8,523.3 1630.8,522.3 1637.0,521.5 C1643.2,520.7 1648.0,521.4 1652.0,523.0 C1656.0,524.6 1659.2,527.3 1661.0,531.0 C1662.8,534.7 1664.0,540.8 1663.0,545.0 C1662.0,549.2 1658.8,553.2 1655.0,556.0 C1651.2,558.8 1645.5,558.8 1640.0,562.0 C1634.5,565.2 1629.0,570.3 1622.0,575.0 C1615.0,579.7 1607.0,585.3 1598.0,590.0 C1589.0,594.7 1577.7,599.2 1568.0,603.0 C1558.3,606.8 1548.5,609.7 1540.0,613.0 C1531.5,616.3 1522.8,619.3 1517.0,623.0 C1511.2,626.7 1509.2,632.0 1505.0,635.0 C1500.8,638.0 1496.8,638.9 1492.0,641.0 C1487.2,643.1 1481.5,646.4 1476.0,647.5 C1470.5,648.6 1464.8,648.6 1459.0,647.5 C1453.2,646.4 1445.3,643.8 1441.0,641.0 C1436.7,638.2 1434.7,634.3 1433.0,631.0 C1431.3,627.7 1430.5,625.3 1431.0,621.0Z"/>
<path fill="#9a9a9a" d="M1431.0,621.0 C1431.5,616.7 1433.3,608.8 1436.0,605.0 C1438.7,601.2 1444.7,596.8 1447.0,598.0 C1449.3,599.2 1450.3,607.3 1450.0,612.0 C1449.7,616.7 1445.0,621.5 1445.0,626.0 C1445.0,630.5 1447.7,635.4 1450.0,639.0 C1452.3,642.6 1460.5,647.2 1459.0,647.5 C1457.5,647.8 1445.3,643.8 1441.0,641.0 C1436.7,638.2 1434.7,634.3 1433.0,631.0 C1431.3,627.7 1430.5,625.3 1431.0,621.0Z"/>
<path fill="#8c8c8c" d="M1448.0,589.0 C1448.4,586.4 1450.5,583.6 1452.7,582.0 C1454.9,580.4 1456.7,579.1 1461.0,579.3 C1465.3,579.5 1471.6,581.8 1478.4,583.4 C1485.2,585.0 1496.1,587.1 1501.7,589.0 C1507.3,590.9 1512.0,593.2 1512.0,595.0 C1512.0,596.8 1507.3,597.4 1501.7,599.7 C1496.1,602.0 1484.6,606.3 1478.4,609.0 C1472.2,611.7 1467.7,616.0 1464.4,616.0 C1461.1,616.0 1460.8,612.1 1458.5,609.0 C1456.2,605.9 1452.2,600.8 1450.4,597.5 C1448.7,594.2 1447.6,591.6 1448.0,589.0Z"/>
<path fill="#b3b3b3" d="M1495.0,640.0 L1530.0,600.0 L1600.0,562.0 L1640.0,556.0 L1642.0,606.0 L1570.0,616.0 L1520.0,632.0Z"/>
<path fill="#8c8c8c" d="M1552.0,583.0 L1597.0,544.0 L1615.0,540.0 L1607.5,559.6Z"/>
<path fill="#ffffff" d="M1530.0,596.7 L1607.5,559.6 L1568.0,598.3 L1535.0,616.3Z"/>
<path fill="#b3b3b3" d="M1640.0,560.0 C1643.3,555.8 1647.5,547.3 1655.0,540.0 C1662.5,532.7 1674.6,522.2 1685.0,516.0 C1695.4,509.8 1708.5,505.6 1717.5,503.0 C1726.5,500.4 1730.0,500.2 1739.0,500.5 C1748.0,500.8 1761.9,502.1 1771.7,505.0 C1781.5,507.9 1790.5,512.5 1797.7,518.0 C1804.9,523.5 1810.7,530.8 1815.0,537.7 C1819.3,544.6 1821.9,552.2 1823.7,559.4 C1825.5,566.6 1826.0,574.6 1826.0,581.0 C1826.0,587.4 1825.5,592.6 1823.7,598.0 C1821.9,603.4 1819.0,609.1 1815.0,613.5 C1811.0,617.9 1807.2,620.5 1800.0,624.5 C1792.8,628.5 1780.0,634.2 1771.7,637.5 C1763.4,640.8 1759.0,642.7 1750.0,644.5 C1741.0,646.3 1728.3,648.3 1717.5,648.5 C1706.7,648.7 1694.1,646.6 1685.0,645.5 C1675.9,644.4 1670.5,642.9 1663.0,642.0 C1655.5,641.1 1648.0,640.2 1640.0,640.0 C1632.0,639.8 1622.8,640.2 1615.0,641.0 C1607.2,641.8 1602.0,642.3 1593.0,645.0 C1584.0,647.7 1571.8,652.9 1561.0,657.0 C1550.2,661.1 1538.2,667.7 1528.0,669.5 C1517.8,671.3 1505.2,671.2 1500.0,668.0 C1494.8,664.8 1496.5,656.0 1497.0,650.0 C1497.5,644.0 1499.2,636.7 1503.0,632.0 C1506.8,627.3 1513.0,625.0 1520.0,622.0 C1527.0,619.0 1536.4,616.0 1545.0,614.0 C1553.6,612.0 1562.5,611.8 1571.7,610.0 C1580.9,608.2 1591.8,605.1 1600.0,603.0 C1608.2,600.9 1616.8,601.3 1621.0,597.5 C1625.2,593.7 1622.7,585.4 1625.0,580.0 C1627.3,574.6 1632.5,568.3 1635.0,565.0 C1637.5,561.7 1636.7,564.2 1640.0,560.0Z"/>
<path fill="#8f8f8f" d="M1568.0,598.3 L1607.5,560.0 L1634.0,555.0 L1621.7,581.7 L1621.0,597.5 L1571.7,610.0Z"/>
<path fill="#808080" d="M1600.0,580.0 L1628.0,562.0 L1621.7,581.7 L1621.0,597.5 L1595.0,602.0Z"/>
<path fill="#a8a8a8" d="M1621.7,557.0 C1623.8,552.0 1630.1,554.0 1634.0,552.0 C1637.9,550.0 1640.8,548.2 1645.0,545.0 C1649.2,541.8 1658.5,532.2 1659.0,533.0 C1659.5,533.8 1651.0,544.7 1648.0,550.0 C1645.0,555.3 1642.3,559.7 1641.0,565.0 C1639.7,570.3 1639.2,576.6 1640.0,582.0 C1640.8,587.4 1649.2,594.9 1646.0,597.5 C1642.8,600.1 1625.0,600.1 1621.0,597.5 C1617.0,594.9 1621.6,588.5 1621.7,581.7 C1621.8,575.0 1619.7,562.0 1621.7,557.0Z"/>
<path fill="#bbbbbb" d="M1659.0,533.0 C1664.0,527.2 1667.7,528.8 1672.0,527.0 C1676.3,525.2 1682.0,519.8 1685.0,522.0 C1688.0,524.2 1689.8,533.7 1690.0,540.0 C1690.2,546.3 1686.3,553.3 1686.0,560.0 C1685.7,566.7 1686.5,574.0 1688.0,580.0 C1689.5,586.0 1699.2,593.0 1695.0,596.0 C1690.8,599.0 1670.8,598.3 1663.0,598.0 C1655.2,597.7 1651.9,596.8 1648.0,594.0 C1644.1,591.2 1640.5,586.4 1639.5,581.0 C1638.5,575.6 1638.5,569.5 1641.7,561.5 C1645.0,553.5 1654.0,538.8 1659.0,533.0Z"/>
<path fill="#a2a2a2" d="M1711.0,542.0 C1716.8,537.7 1729.7,531.5 1739.0,530.0 C1748.3,528.5 1760.2,530.3 1767.0,533.0 C1773.8,535.7 1777.7,540.8 1780.0,546.0 C1782.3,551.2 1782.2,558.8 1781.0,564.0 C1779.8,569.2 1775.7,574.2 1773.0,577.0 C1770.3,579.8 1767.3,582.2 1765.0,581.0 C1762.7,579.8 1762.2,572.8 1759.0,570.0 C1755.8,567.2 1751.2,565.2 1746.0,564.0 C1740.8,562.8 1733.8,561.9 1728.0,562.6 C1722.2,563.3 1715.0,569.1 1711.0,568.0 C1707.0,566.9 1704.0,560.3 1704.0,556.0 C1704.0,551.7 1705.2,546.3 1711.0,542.0Z"/>
<path fill="#8f8f8f" d="M1767.0,546.0 C1770.0,544.1 1778.3,548.5 1780.0,552.8 C1781.7,557.1 1779.0,567.6 1777.0,572.0 C1775.0,576.4 1770.5,580.3 1768.0,579.0 C1765.5,577.7 1762.2,569.5 1762.0,564.0 C1761.8,558.5 1764.0,547.9 1767.0,546.0Z"/>
<path fill="#ffffff" d="M1685.0,600.5 C1684.3,596.9 1693.7,586.4 1698.0,581.0 C1702.3,575.6 1705.9,571.1 1711.0,568.0 C1716.1,564.9 1722.6,563.3 1728.4,562.6 C1734.2,561.9 1740.7,562.4 1745.7,563.7 C1750.8,565.0 1755.5,567.3 1758.7,570.2 C1762.0,573.1 1765.9,577.8 1765.2,581.0 C1764.5,584.2 1760.5,586.6 1754.4,589.7 C1748.3,592.8 1737.1,597.2 1728.4,599.4 C1719.7,601.6 1709.6,602.5 1702.4,602.7 C1695.2,602.9 1685.7,604.1 1685.0,600.5Z"/>
<path fill="#d8d8d8" d="M1593.0,643.0 C1593.0,642.2 1606.9,638.2 1615.0,636.5 C1623.1,634.8 1630.0,633.4 1641.7,633.0 C1653.4,632.6 1672.4,633.6 1685.0,634.0 C1697.6,634.4 1704.8,635.7 1717.5,635.2 C1730.2,634.7 1748.3,633.9 1761.0,631.0 C1773.7,628.1 1785.1,622.3 1793.4,618.0 C1801.7,613.7 1805.7,609.0 1810.7,605.0 C1815.8,601.0 1821.7,594.8 1823.7,594.0 C1825.8,593.2 1824.5,596.8 1823.0,600.0 C1821.5,603.2 1818.8,609.4 1815.0,613.5 C1811.2,617.6 1807.2,620.5 1800.0,624.5 C1792.8,628.5 1780.0,634.2 1771.7,637.5 C1763.4,640.8 1759.0,642.7 1750.0,644.5 C1741.0,646.3 1728.3,648.3 1717.5,648.5 C1706.7,648.7 1694.1,646.6 1685.0,645.5 C1675.9,644.4 1670.5,642.9 1663.0,642.0 C1655.5,641.1 1648.0,640.2 1640.0,640.0 C1632.0,639.8 1622.8,640.5 1615.0,641.0 C1607.2,641.5 1593.0,643.8 1593.0,643.0Z"/>
<path fill="#b3b3b3" d="M1476.0,655.0 C1476.7,652.3 1478.5,649.8 1482.0,647.0 C1485.5,644.2 1492.0,640.7 1497.0,638.0 C1502.0,635.3 1510.5,629.0 1512.0,631.0 C1513.5,633.0 1509.7,645.0 1506.0,650.0 C1502.3,655.0 1494.7,658.8 1490.0,661.0 C1485.3,663.2 1480.3,664.0 1478.0,663.0 C1475.7,662.0 1475.3,657.7 1476.0,655.0Z"/>
<path fill="#a9a9a9" d="M1612.0,640.0 C1618.7,637.3 1631.2,639.5 1640.0,640.0 C1648.8,640.5 1658.3,642.0 1665.0,643.0 C1671.7,644.0 1677.8,643.8 1680.0,646.0 C1682.2,648.2 1679.7,654.7 1678.0,656.0 C1676.3,657.3 1674.7,654.7 1670.0,654.0 C1665.3,653.3 1657.0,652.3 1650.0,652.0 C1643.0,651.7 1634.3,651.7 1628.0,652.0 C1621.7,652.3 1616.7,653.3 1612.0,654.0 C1607.3,654.7 1600.0,658.3 1600.0,656.0 C1600.0,653.7 1605.3,642.7 1612.0,640.0Z"/>
<path fill="#ffffff" d="M1526.0,672.0 C1528.8,670.2 1540.9,666.4 1549.0,663.6 C1557.1,660.8 1566.0,657.7 1574.5,655.0 C1583.0,652.3 1593.4,649.8 1600.0,647.5 C1606.6,645.2 1614.0,639.9 1614.0,641.3 C1614.0,642.7 1605.2,651.7 1600.0,656.0 C1594.8,660.3 1588.7,664.2 1583.0,667.0 C1577.3,669.8 1571.7,671.6 1566.0,673.0 C1560.3,674.4 1554.7,675.4 1549.0,675.6 C1543.3,675.9 1535.8,675.1 1532.0,674.5 C1528.2,673.9 1523.2,673.8 1526.0,672.0Z"/>
<path fill="#d6d6d6" d="M1680.0,645.5 C1681.2,645.8 1683.7,646.8 1684.0,650.0 C1684.3,653.2 1683.7,659.3 1682.0,665.0 C1680.3,670.7 1677.7,677.7 1674.0,684.0 C1670.3,690.3 1664.8,697.7 1660.0,703.0 C1655.2,708.3 1646.7,715.2 1645.0,716.0 C1643.3,716.8 1646.8,712.3 1650.0,708.0 C1653.2,703.7 1660.2,696.0 1664.0,690.0 C1667.8,684.0 1670.8,677.5 1673.0,672.0 C1675.2,666.5 1676.3,661.0 1677.0,657.0 C1677.7,653.0 1676.5,649.9 1677.0,648.0 C1677.5,646.1 1678.8,645.2 1680.0,645.5Z"/>
<path fill="#919191" d="M1483.0,657.0 C1482.3,656.0 1487.2,648.3 1490.0,645.0 C1492.8,641.7 1495.8,639.5 1500.0,637.0 C1504.2,634.5 1510.0,632.0 1515.0,630.0 C1520.0,628.0 1524.5,626.8 1530.0,625.0 C1535.5,623.2 1543.0,620.6 1548.0,619.0 C1553.0,617.4 1555.5,615.8 1560.0,615.5 C1564.5,615.2 1571.3,615.9 1575.0,617.0 C1578.7,618.1 1580.2,619.5 1582.0,622.0 C1583.8,624.5 1585.3,628.7 1585.5,632.0 C1585.7,635.3 1584.8,639.5 1583.0,642.0 C1581.2,644.5 1578.8,646.0 1575.0,647.0 C1571.2,648.0 1565.0,648.3 1560.0,648.0 C1555.0,647.7 1550.0,646.0 1545.0,645.0 C1540.0,644.0 1535.0,642.7 1530.0,642.0 C1525.0,641.3 1519.5,640.7 1515.0,641.0 C1510.5,641.3 1506.5,642.3 1503.0,644.0 C1499.5,645.7 1497.3,648.8 1494.0,651.0 C1490.7,653.2 1483.7,658.0 1483.0,657.0Z"/>
<path fill="#dadada" d="M1499.0,664.0 C1499.2,661.6 1500.2,656.8 1502.0,654.0 C1503.8,651.2 1506.7,648.8 1510.0,647.0 C1513.3,645.2 1517.7,644.0 1522.0,643.0 C1526.3,642.0 1531.3,641.2 1536.0,641.0 C1540.7,640.8 1545.0,641.3 1550.0,642.0 C1555.0,642.7 1561.0,644.9 1566.0,645.0 C1571.0,645.1 1574.7,643.4 1580.0,642.5 C1585.3,641.6 1592.3,640.3 1598.0,639.5 C1603.7,638.7 1608.0,638.0 1614.0,637.5 C1620.0,637.0 1629.7,636.2 1634.0,636.5 C1638.3,636.8 1643.3,638.7 1640.0,639.5 C1636.7,640.3 1620.7,640.0 1614.0,641.3 C1607.3,642.6 1606.6,645.2 1600.0,647.5 C1593.4,649.8 1583.0,652.3 1574.5,655.0 C1566.0,657.7 1557.0,660.9 1549.0,663.6 C1541.0,666.4 1532.9,670.2 1526.4,671.5 C1519.9,672.8 1514.2,672.0 1510.0,671.5 C1505.8,671.0 1502.8,669.8 1501.0,668.5 C1499.2,667.2 1498.8,666.4 1499.0,664.0Z"/>
<path fill="#c2c2c2" d="M1537.0,641.0 C1539.5,640.4 1546.8,640.8 1550.0,641.5 C1553.2,642.2 1555.7,643.8 1556.0,645.0 C1556.3,646.2 1554.7,648.5 1552.0,649.0 C1549.3,649.5 1542.8,648.7 1540.0,648.0 C1537.2,647.3 1535.5,646.2 1535.0,645.0 C1534.5,643.8 1534.5,641.6 1537.0,641.0Z"/>
<path fill="#8d8d8d" d="M1483.0,661.0 C1482.7,657.7 1484.8,652.5 1487.0,649.0 C1489.2,645.5 1493.0,642.2 1496.0,640.0 C1499.0,637.8 1504.3,635.0 1505.0,636.0 C1505.7,637.0 1501.3,642.7 1500.0,646.0 C1498.7,649.3 1497.2,652.8 1497.0,656.0 C1496.8,659.2 1497.5,662.4 1499.0,665.0 C1500.5,667.6 1506.2,670.3 1506.0,671.5 C1505.8,672.7 1500.8,672.4 1498.0,672.0 C1495.2,671.6 1491.5,670.8 1489.0,669.0 C1486.5,667.2 1483.3,664.3 1483.0,661.0Z"/>
<path fill="#878787" d="M1553.0,622.0 C1555.0,619.2 1558.5,619.4 1562.0,619.0 C1565.5,618.6 1570.5,618.7 1574.0,619.5 C1577.5,620.3 1581.2,621.8 1583.0,624.0 C1584.8,626.2 1584.8,630.0 1585.0,633.0 C1585.2,636.0 1584.8,639.8 1584.0,642.0 C1583.2,644.2 1581.2,646.2 1580.0,646.0 C1578.8,645.8 1577.5,643.2 1577.0,641.0 C1576.5,638.8 1577.8,635.3 1577.0,633.0 C1576.2,630.7 1574.3,628.2 1572.0,627.0 C1569.7,625.8 1565.5,625.7 1563.0,626.0 C1560.5,626.3 1558.2,627.3 1557.0,629.0 C1555.8,630.7 1555.5,633.8 1556.0,636.0 C1556.5,638.2 1558.5,640.3 1560.0,642.0 C1561.5,643.7 1565.0,644.8 1565.0,646.0 C1565.0,647.2 1562.0,649.2 1560.0,649.0 C1558.0,648.8 1554.7,647.2 1553.0,645.0 C1551.3,642.8 1550.0,639.8 1550.0,636.0 C1550.0,632.2 1551.0,624.8 1553.0,622.0Z"/>
<path fill="#dcdcdc" d="M1557.0,629.0 C1558.2,627.5 1560.5,626.3 1563.0,626.0 C1565.5,625.7 1569.8,625.8 1572.0,627.0 C1574.2,628.2 1575.3,630.7 1576.0,633.0 C1576.7,635.3 1576.8,639.0 1576.0,641.0 C1575.2,643.0 1573.0,644.5 1571.0,645.0 C1569.0,645.5 1566.0,644.8 1564.0,644.0 C1562.0,643.2 1560.3,641.5 1559.0,640.0 C1557.7,638.5 1556.3,636.8 1556.0,635.0 C1555.7,633.2 1555.8,630.5 1557.0,629.0Z"/>
<ellipse cx="1561.5" cy="644.5" rx="4.3" ry="3.4" fill="#7e7e7e"/>
<ellipse cx="1550.5" cy="650.5" rx="6" ry="2.6" fill="#7a7a7a" transform="rotate(25 1550.5 650.5)"/>
<path d="M1531.6,654 L1531.6,666 M1533,656 L1541,661.5" stroke="#6e6e6e" stroke-width="1.6" stroke-linecap="round"/>
<path d="M1508,666 L1508,670 M1515,664.5 L1515,670 M1522.5,663 L1522.5,669" stroke="#7e7e7e" stroke-width="1.4"/>
<circle cx="1511" cy="661" r="1.2" fill="#7e7e7e"/>
<path d="M1590,631 Q1597,636 1598,640" stroke="#7a7a7a" stroke-width="2.2" fill="none" stroke-linecap="round"/>
<path d="M1617,636 L1621,635 M1640,635 L1645,634" stroke="#7a7a7a" stroke-width="1.6" stroke-linecap="round"/>
<circle cx="1529.6" cy="650.8" r="6.4" fill="#2c2c2c"/><circle cx="1529.6" cy="650.8" r="4.2" fill="#9a9a9a"/><circle cx="1529.6" cy="650.4" r="1.5" fill="#404040"/>
<path fill="#6c6c6c" d="M1708.2,541.2 Q1712.8,532.4 1717.4,541.2 Q1712.8,538.9 1708.2,541.2Z" transform="rotate(10 1712.8 538.4)"/>
<path fill="#6c6c6c" d="M1687.9,552.5 Q1692.5,543.7 1697.1,552.5 Q1692.5,550.2 1687.9,552.5Z" transform="rotate(-20 1692.5 549.7)"/>
<path fill="#6c6c6c" d="M1666.1,576.3 Q1671,566.9 1675.9,576.3 Q1671,573.8 1666.1,576.3Z" transform="rotate(20 1671 573.3)"/>
<path fill="#6c6c6c" d="M1808.4,581.8 Q1813,573.0 1817.6,581.8 Q1813,579.5 1808.4,581.8Z" transform="rotate(0 1813 579)"/>
<path fill="#6c6c6c" d="M1788.9,601.5 Q1792.7,594.3 1796.5,601.5 Q1792.7,599.6 1788.9,601.5Z" transform="rotate(30 1792.7 599.2)"/>
<path fill="#6c6c6c" d="M1759.1,618.3 Q1764.6,607.8 1770.1,618.3 Q1764.6,615.6 1759.1,618.3Z" transform="rotate(0 1764.6 615)"/>
<path fill="#6c6c6c" d="M1728.1,629.3 Q1733,619.9 1737.9,629.3 Q1733,626.8 1728.1,629.3Z" transform="rotate(20 1733 626.3)"/>
<path fill="#6c6c6c" d="M1684.2,629.7 Q1688,622.5 1691.8,629.7 Q1688,627.8 1684.2,629.7Z" transform="rotate(0 1688 627.4)"/>
<path fill="#6c6c6c" d="M1651.6,627.3 Q1655.4,620.1 1659.2,627.3 Q1655.4,625.4 1651.6,627.3Z" transform="rotate(10 1655.4 625)"/>
<path fill="#6c6c6c" d="M1625.7,625.2 Q1629.5,618.0 1633.3,625.2 Q1629.5,623.3 1625.7,625.2Z" transform="rotate(0 1629.5 622.9)"/>
<path fill="#6c6c6c" d="M1604.5,626.1 Q1608,619.5 1611.5,626.1 Q1608,624.3 1604.5,626.1Z" transform="rotate(0 1608 624)"/>
<path fill="#6c6c6c" d="M1809.2,610.5 Q1813,603.3 1816.8,610.5 Q1813,608.6 1809.2,610.5Z" transform="rotate(80 1813 608.2)"/>
<path fill="#6c6c6c" d="M1745.9,642.3 Q1752,630.7 1758.1,642.3 Q1752,639.2 1745.9,642.3Z" transform="rotate(20 1752 638.6)"/>
<path fill="#6c6c6c" d="M1705.3,645.1 Q1710.5,635.2 1715.7,645.1 Q1710.5,642.5 1705.3,645.1Z" transform="rotate(60 1710.5 642)"/>
<path fill="#6c6c6c" d="M1671.2,642.4 Q1675.6,634.1 1679.9,642.4 Q1675.6,640.2 1671.2,642.4Z" transform="rotate(40 1675.6 639.8)"/>
<path fill="#6c6c6c" d="M1646.2,667.3 Q1650.8,658.5 1655.4,667.3 Q1650.8,665.0 1646.2,667.3Z" transform="rotate(-20 1650.8 664.5)"/>
<path fill="#6c6c6c" d="M1620.2,690.5 Q1626,679.5 1631.8,690.5 Q1626,687.6 1620.2,690.5Z" transform="rotate(0 1626 687)"/>
<path fill="#6c6c6c" d="M1645.1,691.0 Q1649.7,682.2 1654.3,691.0 Q1649.7,688.7 1645.1,691.0Z" transform="rotate(30 1649.7 688.2)"/>
<path fill="#6c6c6c" d="M1588.5,705.8 Q1593.4,696.4 1598.3,705.8 Q1593.4,703.3 1588.5,705.8Z" transform="rotate(0 1593.4 702.8)"/>
<path fill="#6c6c6c" d="M1521.0,710.3 Q1525.9,700.9 1530.8,710.3 Q1525.9,707.8 1521.0,710.3Z" transform="rotate(-10 1525.9 707.3)"/>
<path fill="#6c6c6c" d="M1608.5,719.5 Q1613.7,709.6 1618.9,719.5 Q1613.7,716.9 1608.5,719.5Z" transform="rotate(-60 1613.7 716.4)"/>
<path fill="#6c6c6c" d="M1576.5,728.7 Q1582,718.2 1587.5,728.7 Q1582,726.0 1576.5,728.7Z" transform="rotate(10 1582 725.4)"/>
<path fill="#6c6c6c" d="M1543.5,736.2 Q1548.4,726.8 1553.3,736.2 Q1548.4,733.7 1543.5,736.2Z" transform="rotate(-30 1548.4 733.2)"/>
<path fill="#6c6c6c" d="M1511.7,615.6 Q1514.6,610.1 1517.5,615.6 Q1514.6,614.2 1511.7,615.6Z" transform="rotate(0 1514.6 613.9)"/>
<path fill="#6c6c6c" d="M1488.8,628.2 Q1492,622.2 1495.2,628.2 Q1492,626.6 1488.8,628.2Z" transform="rotate(0 1492 626.3)"/>
<path fill="#6c6c6c" d="M1464.1,633.8 Q1467.3,627.8 1470.5,633.8 Q1467.3,632.2 1464.1,633.8Z" transform="rotate(-30 1467.3 631.9)"/></g>
<g><path fill="#7a7a7a" d="M2031.5,762.0 C2029.8,761.4 2031.6,755.1 2033.0,752.0 C2034.4,748.9 2036.8,746.3 2040.0,743.5 C2043.2,740.7 2047.7,737.6 2052.0,735.0 C2056.3,732.4 2060.5,729.8 2066.0,728.0 C2071.5,726.2 2079.0,724.7 2085.0,724.0 C2091.0,723.3 2095.0,724.8 2102.0,724.0 C2109.0,723.2 2119.8,721.3 2127.0,719.0 C2134.2,716.7 2139.5,713.5 2145.0,710.0 C2150.5,706.5 2156.2,699.7 2160.0,698.0 C2163.8,696.3 2168.0,696.0 2168.0,700.0 C2168.0,704.0 2163.6,717.0 2160.0,722.0 C2156.4,727.0 2152.2,727.2 2146.7,730.0 C2141.1,732.8 2134.2,737.2 2126.7,739.0 C2119.2,740.8 2108.6,741.2 2101.7,741.0 C2094.8,740.8 2091.9,737.0 2085.0,737.5 C2078.1,738.0 2067.0,741.0 2060.0,744.0 C2053.0,747.0 2047.8,752.5 2043.0,755.5 C2038.2,758.5 2033.2,762.6 2031.5,762.0Z"/>
<path fill="#6f6f6f" d="M2150.0,616.0 L2143.3,621.7 L2133.0,626.7 L2126.7,631.7 L2123.3,640.0 L2116.7,646.7 L2110.0,651.7 L2105.0,655.0 L2100.0,660.0 L2098.3,665.0 L2090.0,671.7 L2081.7,675.0 L2076.7,678.3 L2068.3,683.3 L2061.7,690.0 L2056.7,696.7 L2050.0,703.3 L2046.7,710.0 L2058.0,721.0 L2080.0,727.0 L2105.0,729.0 L2128.0,725.0 L2148.0,716.0 L2163.0,702.0 L2174.0,683.0 L2179.0,660.0 L2177.0,635.0 L2170.0,618.0 L2160.0,612.0Z"/>
<path fill="#898989" d="M2046.7,710.0 C2044.4,710.0 2040.8,712.8 2038.0,716.0 C2035.2,719.2 2032.0,724.5 2030.0,729.0 C2028.0,733.5 2026.8,738.3 2026.0,743.0 C2025.2,747.7 2024.5,755.7 2025.0,757.0 C2025.5,758.3 2027.7,753.8 2029.0,751.0 C2030.3,748.2 2030.6,743.9 2033.0,740.0 C2035.4,736.1 2038.8,730.5 2043.3,727.5 C2047.8,724.5 2058.6,723.9 2060.0,722.0 C2061.4,720.1 2054.2,718.0 2052.0,716.0 C2049.8,714.0 2049.0,710.0 2046.7,710.0Z"/>
<path fill="#5a5a5a" d="M2142.0,618.0 C2144.2,612.2 2153.4,612.1 2160.0,612.0 C2166.6,611.9 2177.3,613.7 2181.7,617.5 C2186.1,621.3 2186.4,629.2 2186.4,635.0 C2186.4,640.8 2184.0,646.7 2181.7,652.5 C2179.4,658.3 2174.3,663.2 2172.4,670.0 C2170.5,676.8 2171.2,686.6 2170.0,693.4 C2168.8,700.2 2167.7,705.2 2165.4,711.0 C2163.1,716.8 2160.1,724.6 2156.0,728.4 C2151.9,732.2 2143.2,736.0 2141.0,734.0 C2138.8,732.0 2142.2,723.5 2143.0,716.7 C2143.8,709.9 2144.7,701.2 2145.5,693.4 C2146.3,685.6 2147.8,677.8 2148.0,670.0 C2148.2,662.2 2147.7,655.4 2146.7,646.7 C2145.7,638.0 2139.8,623.8 2142.0,618.0Z"/>
<path fill="#dcdcdc" d="M2057.0,721.5 C2060.0,719.1 2072.8,716.1 2080.0,713.0 C2087.2,709.9 2093.3,707.2 2100.0,703.0 C2106.7,698.8 2114.2,693.0 2120.0,688.0 C2125.8,683.0 2130.4,678.0 2135.0,673.0 C2139.6,668.0 2145.4,655.2 2147.5,658.0 C2149.6,660.8 2149.6,681.7 2147.5,690.0 C2145.4,698.3 2140.4,703.3 2135.0,708.0 C2129.6,712.7 2120.8,715.5 2115.0,718.0 C2109.2,720.5 2105.8,721.5 2100.0,723.0 C2094.2,724.5 2086.3,726.2 2080.0,727.0 C2073.7,727.8 2065.8,728.4 2062.0,727.5 C2058.2,726.6 2054.0,723.9 2057.0,721.5Z"/>
<path fill="#9a9a9a" d="M2147.5,662.0 C2148.8,657.3 2152.8,654.6 2155.0,652.0 C2157.2,649.4 2159.9,645.2 2160.7,646.5 C2161.5,647.8 2160.9,654.8 2160.0,660.0 C2159.1,665.2 2157.2,672.5 2155.0,678.0 C2152.8,683.5 2148.2,692.7 2147.0,693.0 C2145.8,693.3 2147.4,685.2 2147.5,680.0 C2147.6,674.8 2146.2,666.7 2147.5,662.0Z"/>
<path fill="#727272" d="M2179.0,604.0 L2180.0,590.0 L2183.0,567.0 L2178.0,550.0 L2167.5,534.0 L2176.0,537.0 L2177.0,524.7 L2185.0,528.0 L2179.0,503.0 L2188.0,510.0 L2191.0,496.0 L2200.0,502.5 L2210.0,496.0 L2215.0,501.0 L2222.0,496.7 L2229.0,501.0 L2234.0,496.0 L2242.0,502.5 L2245.0,499.6 L2255.0,509.5 L2262.0,509.0 L2270.0,517.0 L2278.4,526.0 L2296.0,527.0 L2300.0,533.0 L2290.0,548.0 L2262.0,562.0 L2244.0,585.0 L2230.0,603.0 L2205.0,607.0Z"/>
<path fill="#8a8a8a" d="M2182.7,586.0 C2182.9,582.7 2186.7,575.8 2190.0,570.0 C2193.3,564.2 2198.3,555.8 2202.5,551.0 C2206.7,546.2 2211.1,543.8 2215.0,541.0 C2218.9,538.2 2221.8,535.8 2226.0,534.0 C2230.2,532.2 2235.7,530.8 2240.0,530.0 C2244.3,529.2 2250.3,527.9 2251.6,529.4 C2252.9,530.9 2251.3,535.2 2248.0,538.7 C2244.7,542.2 2237.2,547.2 2231.7,550.4 C2226.2,553.6 2219.4,555.2 2215.0,558.0 C2210.6,560.8 2208.3,563.7 2205.0,567.0 C2201.7,570.3 2197.8,574.2 2195.0,578.0 C2192.2,581.8 2190.6,588.7 2188.5,590.0 C2186.4,591.3 2182.4,589.3 2182.7,586.0Z"/>
<path fill="#5e5e5e" d="M2181.5,598.0 C2178.7,593.7 2185.5,585.2 2188.0,580.0 C2190.5,574.8 2193.4,570.3 2196.7,567.0 C2200.0,563.7 2204.1,562.0 2208.0,560.0 C2211.9,558.0 2215.7,556.2 2220.0,555.0 C2224.3,553.8 2230.9,550.8 2234.0,552.7 C2237.1,554.7 2237.1,560.5 2238.7,566.7 C2240.3,572.9 2243.8,584.1 2243.4,590.0 C2243.0,595.9 2242.4,599.3 2236.0,602.0 C2229.6,604.7 2214.1,606.7 2205.0,606.0 C2195.9,605.3 2184.3,602.3 2181.5,598.0Z"/>
<path fill="#7a7a7a" d="M2238.7,549.0 C2239.5,544.9 2240.7,539.3 2243.4,536.4 C2246.1,533.5 2249.2,533.3 2255.0,531.7 C2260.8,530.1 2271.6,527.8 2278.4,527.0 C2285.2,526.2 2292.1,525.8 2296.0,527.0 C2299.9,528.2 2300.0,531.0 2301.7,534.0 C2303.4,537.0 2304.4,541.5 2306.0,545.0 C2307.6,548.5 2310.7,551.4 2311.0,555.0 C2311.3,558.6 2310.5,562.8 2307.6,566.7 C2304.7,570.6 2300.4,575.7 2293.6,578.4 C2286.8,581.1 2274.1,582.0 2266.7,583.0 C2259.3,584.0 2253.3,585.4 2249.0,584.2 C2244.7,583.0 2242.7,579.9 2241.0,576.0 C2239.3,572.1 2239.1,565.5 2238.7,561.0 C2238.3,556.5 2237.9,553.1 2238.7,549.0Z"/>
<path fill="#6c6c6c" d="M2241.0,570.0 C2242.0,567.0 2250.5,568.3 2255.0,566.0 C2259.5,563.7 2263.0,558.3 2268.0,556.0 C2273.0,553.7 2279.7,552.5 2285.0,552.0 C2290.3,551.5 2296.0,552.2 2300.0,553.0 C2304.0,553.8 2307.7,554.7 2309.0,557.0 C2310.3,559.3 2310.2,563.1 2307.6,566.7 C2305.0,570.3 2300.4,575.7 2293.6,578.4 C2286.8,581.1 2274.1,582.0 2266.7,583.0 C2259.3,584.0 2253.3,586.4 2249.0,584.2 C2244.7,582.0 2240.0,573.0 2241.0,570.0Z"/>
<circle cx="2262" cy="541" r="1.6" fill="#d4d4d4"/><circle cx="2270" cy="547" r="1.3" fill="#d4d4d4"/><circle cx="2276" cy="542" r="1.2" fill="#d4d4d4"/><circle cx="2283" cy="538" r="1.4" fill="#d4d4d4"/><circle cx="2290" cy="545" r="1.8" fill="#d4d4d4"/><circle cx="2298" cy="541" r="1.4" fill="#d4d4d4"/><circle cx="2296" cy="551" r="2.2" fill="#d4d4d4"/><circle cx="2288" cy="556" r="1.6" fill="#d4d4d4"/><circle cx="2279" cy="555" r="2.2" fill="#d4d4d4"/><circle cx="2271" cy="558" r="1.8" fill="#d4d4d4"/><circle cx="2262" cy="561" r="1.6" fill="#d4d4d4"/><circle cx="2256" cy="566" r="1.4" fill="#d4d4d4"/><circle cx="2250" cy="569" r="1.5" fill="#d4d4d4"/><circle cx="2247" cy="575" r="1.3" fill="#d4d4d4"/><circle cx="2255" cy="576" r="1.1" fill="#d4d4d4"/><circle cx="2262" cy="573" r="1.2" fill="#d4d4d4"/><circle cx="2270" cy="569" r="1.3" fill="#d4d4d4"/><circle cx="2280" cy="565" r="1.1" fill="#d4d4d4"/><circle cx="2290" cy="563" r="1.2" fill="#d4d4d4"/><circle cx="2300" cy="560" r="1.2" fill="#d4d4d4"/><circle cx="2304" cy="565" r="1.4" fill="#d4d4d4"/><circle cx="2285" cy="572" r="1.1" fill="#d4d4d4"/><circle cx="2272" cy="576" r="1.0" fill="#d4d4d4"/><circle cx="2245" cy="580" r="1.0" fill="#d4d4d4"/><circle cx="2252" cy="581" r="1.0" fill="#d4d4d4"/><circle cx="2296" cy="570" r="1.0" fill="#d4d4d4"/><circle cx="2266" cy="566" r="1.0" fill="#d4d4d4"/>
<ellipse cx="2252.7" cy="542.2" rx="4.4" ry="5" fill="#d8d8d8"/><circle cx="2252.7" cy="542.5" r="2.1" fill="#222"/>
<ellipse cx="2301.5" cy="537" rx="2" ry="3" fill="#e0e0e0"/><circle cx="2301.8" cy="538" r="1.5" fill="#222"/>
<path fill="#dadada" d="M2247.0,585.0 C2250.8,583.3 2259.7,583.8 2266.0,583.0 C2272.3,582.2 2280.4,580.8 2285.0,580.0 C2289.6,579.2 2291.8,577.1 2293.6,578.4 C2295.4,579.7 2296.6,584.7 2296.0,588.0 C2295.4,591.3 2292.7,595.5 2290.0,598.0 C2287.3,600.5 2284.8,601.3 2280.0,603.0 C2275.2,604.7 2266.3,608.2 2261.0,608.0 C2255.7,607.8 2251.0,604.5 2248.0,602.0 C2245.0,599.5 2243.2,595.8 2243.0,593.0 C2242.8,590.2 2243.2,586.7 2247.0,585.0Z"/>
<ellipse cx="2262" cy="590" rx="5" ry="3" fill="#626262" transform="rotate(-20 2262 590)"/>
<ellipse cx="2276" cy="589" rx="4" ry="2.5" fill="#626262" transform="rotate(-30 2276 589)"/>
<ellipse cx="2288" cy="590" rx="3" ry="2" fill="#626262" transform="rotate(-50 2288 590)"/>
<ellipse cx="2255" cy="598" rx="4" ry="2.5" fill="#626262" transform="rotate(10 2255 598)"/>
<ellipse cx="2270" cy="600" rx="5" ry="2.5" fill="#626262" transform="rotate(-15 2270 600)"/>
<ellipse cx="2283" cy="598" rx="3" ry="2" fill="#626262" transform="rotate(-40 2283 598)"/>
<path fill="#5f5f5f" d="M2153.0,612.0 C2153.8,609.8 2159.7,606.8 2165.0,605.0 C2170.3,603.2 2177.5,601.8 2185.0,601.0 C2192.5,600.2 2202.2,600.0 2210.0,600.0 C2217.8,600.0 2225.3,600.5 2232.0,601.0 C2238.7,601.5 2247.0,601.2 2250.0,603.0 C2253.0,604.8 2253.3,610.5 2250.0,612.0 C2246.7,613.5 2237.5,612.0 2230.0,612.0 C2222.5,612.0 2213.3,611.5 2205.0,612.0 C2196.7,612.5 2187.5,614.0 2180.0,615.0 C2172.5,616.0 2164.5,618.5 2160.0,618.0 C2155.5,617.5 2152.2,614.2 2153.0,612.0Z"/>
<path fill="#8c8c8c" d="M2175.0,604.0 C2178.3,602.3 2191.7,600.0 2200.0,599.0 C2208.3,598.0 2217.5,597.8 2225.0,598.0 C2232.5,598.2 2241.3,598.7 2245.0,600.0 C2248.7,601.3 2250.3,605.2 2247.0,606.0 C2243.7,606.8 2232.8,605.0 2225.0,605.0 C2217.2,605.0 2207.5,605.3 2200.0,606.0 C2192.5,606.7 2184.2,609.3 2180.0,609.0 C2175.8,608.7 2171.7,605.7 2175.0,604.0Z"/>
<path fill="#d8d8d8" d="M2150.0,613.0 C2150.3,611.8 2156.3,609.8 2160.0,609.0 C2163.7,608.2 2167.8,607.8 2172.0,608.0 C2176.2,608.2 2181.2,610.0 2185.0,610.0 C2188.8,610.0 2191.7,607.7 2195.0,608.0 C2198.3,608.3 2204.2,610.8 2205.0,612.0 C2205.8,613.2 2203.3,614.7 2200.0,615.0 C2196.7,615.3 2190.0,614.3 2185.0,614.0 C2180.0,613.7 2174.5,612.7 2170.0,613.0 C2165.5,613.3 2161.3,616.0 2158.0,616.0 C2154.7,616.0 2149.7,614.2 2150.0,613.0Z"/>
<path fill="#dadada" d="M2185.0,614.0 C2187.7,610.2 2193.3,612.7 2200.0,612.0 C2206.7,611.3 2217.5,610.7 2225.0,610.0 C2232.5,609.3 2240.5,607.2 2245.0,608.0 C2249.5,608.8 2251.8,611.3 2252.0,615.0 C2252.2,618.7 2247.2,625.0 2246.0,630.0 C2244.8,635.0 2246.3,640.8 2245.0,645.0 C2243.7,649.2 2241.5,652.7 2238.0,655.0 C2234.5,657.3 2228.3,657.7 2224.0,659.0 C2219.7,660.3 2215.7,661.2 2212.0,663.0 C2208.3,664.8 2204.7,667.2 2202.0,670.0 C2199.3,672.8 2197.5,676.3 2196.0,680.0 C2194.5,683.7 2193.0,687.7 2193.0,692.0 C2193.0,696.3 2194.8,702.3 2196.0,706.0 C2197.2,709.7 2200.3,712.7 2200.0,714.0 C2199.7,715.3 2196.0,716.3 2194.0,714.0 C2192.0,711.7 2189.3,705.7 2188.0,700.0 C2186.7,694.3 2186.5,686.7 2186.0,680.0 C2185.5,673.3 2185.3,667.5 2185.0,660.0 C2184.7,652.5 2184.0,642.7 2184.0,635.0 C2184.0,627.3 2182.3,617.8 2185.0,614.0Z"/>
<path d="M2192,620 Q2206.0,612.5 2220,615" stroke="#5c5c5c" stroke-width="3.5" fill="none" stroke-linecap="round"/>
<path d="M2190,628 Q2208.0,620.0 2226,622" stroke="#5c5c5c" stroke-width="3.5" fill="none" stroke-linecap="round"/>
<path d="M2190,637 Q2210.0,629.0 2230,631" stroke="#5c5c5c" stroke-width="3.5" fill="none" stroke-linecap="round"/>
<path d="M2189,646 Q2210.5,638.0 2232,640" stroke="#5c5c5c" stroke-width="3.5" fill="none" stroke-linecap="round"/>
<path d="M2190,655 Q2207.0,648.0 2224,651" stroke="#5c5c5c" stroke-width="3.5" fill="none" stroke-linecap="round"/>
<path d="M2193,664 Q2204.0,657.5 2215,661" stroke="#5c5c5c" stroke-width="3.5" fill="none" stroke-linecap="round"/>
<path fill="#8a8a8a" d="M2293.0,580.5 L2313.0,584.0 L2330.0,588.0 L2342.5,595.0 L2355.0,603.0 L2363.0,608.0 L2371.7,610.5 L2388.0,610.5 L2395.0,611.0 L2396.5,613.5 L2393.0,615.0 L2376.0,616.5 L2403.0,632.5 L2406.0,635.5 L2403.0,637.0 L2370.0,622.0 L2382.5,654.0 L2380.0,655.5 L2364.0,628.0 L2361.5,648.5 L2358.5,648.0 L2355.0,628.0 L2353.0,621.7 L2346.7,611.7 L2338.0,605.0 L2326.0,597.5 L2313.0,594.0 L2297.0,592.5 L2292.5,594.0Z"/>
<path fill="#d2d2d2" d="M2297.0,591.5 C2297.0,590.8 2298.8,589.1 2300.0,589.0 C2301.2,588.9 2302.7,591.1 2304.0,591.0 C2305.3,590.9 2306.7,588.3 2308.0,588.5 C2309.3,588.7 2310.7,591.8 2312.0,592.0 C2313.3,592.2 2314.7,589.7 2316.0,590.0 C2317.3,590.3 2318.3,593.2 2320.0,594.0 C2321.7,594.8 2323.8,594.2 2326.0,595.0 C2328.2,595.8 2331.3,597.3 2333.0,598.5 C2334.7,599.7 2336.5,601.8 2336.0,602.0 C2335.5,602.2 2332.7,600.8 2330.0,600.0 C2327.3,599.2 2323.3,597.9 2320.0,597.0 C2316.7,596.1 2313.3,595.1 2310.0,594.5 C2306.7,593.9 2302.2,594.0 2300.0,593.5 C2297.8,593.0 2297.0,592.2 2297.0,591.5Z"/>
<path fill="#d0d0d0" d="M2336.0,603.0 C2336.5,602.4 2339.3,602.7 2341.0,603.5 C2342.7,604.3 2344.5,606.2 2346.0,608.0 C2347.5,609.8 2348.8,612.0 2350.0,614.0 C2351.2,616.0 2353.2,619.2 2353.0,620.0 C2352.8,620.8 2350.5,620.3 2349.0,619.0 C2347.5,617.7 2345.8,614.0 2344.0,612.0 C2342.2,610.0 2339.3,608.5 2338.0,607.0 C2336.7,605.5 2335.5,603.6 2336.0,603.0Z"/>
<path d="M2378,614 L2386,614 M2393,612.5 L2395,613 M2389,630 L2399,635 M2368,628 L2371,633 M2375,645 L2380,653 M2359.5,632 L2360,645" stroke="#d0d0d0" stroke-width="1.8" stroke-linecap="round"/>
<path fill="#7c7c7c" d="M2228.0,638.0 C2229.7,635.8 2235.2,634.5 2240.0,635.0 C2244.8,635.5 2252.4,637.1 2256.7,640.7 C2261.0,644.3 2263.6,651.8 2266.0,656.7 C2268.4,661.6 2269.6,665.5 2271.4,670.0 C2273.2,674.5 2274.4,680.4 2276.8,683.4 C2279.2,686.4 2283.8,685.6 2286.0,688.0 C2288.2,690.4 2290.7,695.5 2290.0,698.0 C2289.3,700.5 2285.3,701.8 2282.0,703.0 C2278.7,704.2 2273.3,705.5 2270.0,705.0 C2266.7,704.5 2264.0,702.8 2262.0,700.0 C2260.0,697.2 2258.7,692.7 2258.0,688.0 C2257.3,683.3 2259.0,676.7 2258.0,672.0 C2257.0,667.3 2255.0,663.3 2252.0,660.0 C2249.0,656.7 2243.7,654.0 2240.0,652.0 C2236.3,650.0 2232.0,650.3 2230.0,648.0 C2228.0,645.7 2226.3,640.2 2228.0,638.0Z"/>
<path fill="#d6d6d6" d="M2237.0,645.0 C2238.7,643.7 2244.5,643.2 2248.0,644.0 C2251.5,644.8 2255.3,647.0 2258.0,650.0 C2260.7,653.0 2262.5,657.7 2264.0,662.0 C2265.5,666.3 2266.7,671.7 2267.0,676.0 C2267.3,680.3 2267.0,685.7 2266.0,688.0 C2265.0,690.3 2262.3,692.0 2261.0,690.0 C2259.7,688.0 2259.2,680.3 2258.0,676.0 C2256.8,671.7 2256.0,667.3 2254.0,664.0 C2252.0,660.7 2248.7,658.0 2246.0,656.0 C2243.3,654.0 2239.5,653.8 2238.0,652.0 C2236.5,650.2 2235.3,646.3 2237.0,645.0Z"/>
<path fill="#7c7c7c" d="M2270.0,668.0 C2270.7,665.2 2275.5,666.3 2278.0,667.0 C2280.5,667.7 2284.0,669.5 2285.0,672.0 C2286.0,674.5 2285.8,680.0 2284.0,682.0 C2282.2,684.0 2276.3,686.3 2274.0,684.0 C2271.7,681.7 2269.3,670.8 2270.0,668.0Z"/>
<path fill="#d2d2d2" d="M2273.0,671.0 C2274.0,669.3 2278.1,669.5 2280.0,670.0 C2281.9,670.5 2284.3,672.3 2284.5,674.0 C2284.7,675.7 2282.8,679.0 2281.0,680.0 C2279.2,681.0 2275.3,681.5 2274.0,680.0 C2272.7,678.5 2272.0,672.7 2273.0,671.0Z"/>
<path d="M2268,694 L2257,708" stroke="#707070" stroke-width="6.5" stroke-linecap="round"/>
<ellipse cx="2263.1" cy="700.3" rx="2.6" ry="3.6" fill="#d6d6d6"/>
<ellipse cx="2259.2" cy="705.2" rx="2.6" ry="3.6" fill="#d6d6d6"/>
<path d="M2272,697 L2274,722" stroke="#707070" stroke-width="6" stroke-linecap="round"/>
<ellipse cx="2272.9" cy="708.2" rx="2.4" ry="3.3" fill="#d6d6d6"/>
<ellipse cx="2273.6" cy="717.0" rx="2.4" ry="3.3" fill="#d6d6d6"/>
<path d="M2277,696 L2300.5,727" stroke="#707070" stroke-width="6.5" stroke-linecap="round"/>
<ellipse cx="2287.6" cy="710.0" rx="2.6" ry="3.6" fill="#d6d6d6"/>
<ellipse cx="2295.8" cy="720.8" rx="2.6" ry="3.6" fill="#d6d6d6"/>
<path d="M2281,692 L2307.5,707.5" stroke="#707070" stroke-width="5.5" stroke-linecap="round"/>
<ellipse cx="2292.9" cy="699.0" rx="2.2" ry="3.0" fill="#d6d6d6"/>
<ellipse cx="2302.2" cy="704.4" rx="2.2" ry="3.0" fill="#d6d6d6"/>
<path fill="#d0d0d0" d="M2264.0,690.0 C2265.2,688.7 2269.3,688.0 2272.0,688.0 C2274.7,688.0 2278.3,688.8 2280.0,690.0 C2281.7,691.2 2283.3,693.8 2282.0,695.0 C2280.7,696.2 2274.8,696.8 2272.0,697.0 C2269.2,697.2 2266.3,697.2 2265.0,696.0 C2263.7,694.8 2262.8,691.3 2264.0,690.0Z"/>
<path fill="#6c6c6c" d="M2174.0,640.0 C2176.5,635.2 2183.3,634.3 2186.0,636.0 C2188.7,637.7 2190.0,644.7 2190.0,650.0 C2190.0,655.3 2187.0,661.3 2186.0,668.0 C2185.0,674.7 2183.3,683.8 2184.0,690.0 C2184.7,696.2 2187.3,700.7 2190.0,705.0 C2192.7,709.3 2197.3,713.2 2200.0,716.0 C2202.7,718.8 2206.7,718.3 2206.0,722.0 C2205.3,725.7 2199.5,734.8 2196.0,738.0 C2192.5,741.2 2188.5,741.5 2185.0,741.0 C2181.5,740.5 2177.5,739.3 2175.0,735.0 C2172.5,730.7 2171.0,722.5 2170.0,715.0 C2169.0,707.5 2168.8,698.3 2169.0,690.0 C2169.2,681.7 2170.2,673.3 2171.0,665.0 C2171.8,656.7 2171.5,644.8 2174.0,640.0Z"/>
<path fill="#d8d8d8" d="M2186.0,655.0 C2187.2,651.7 2190.0,650.5 2192.0,650.0 C2194.0,649.5 2197.7,650.0 2198.0,652.0 C2198.3,654.0 2195.5,659.0 2194.0,662.0 C2192.5,665.0 2189.3,667.0 2189.0,670.0 C2188.7,673.0 2192.2,676.7 2192.0,680.0 C2191.8,683.3 2188.0,686.7 2188.0,690.0 C2188.0,693.3 2190.0,697.0 2192.0,700.0 C2194.0,703.0 2197.8,705.7 2200.0,708.0 C2202.2,710.3 2205.0,712.5 2205.0,714.0 C2205.0,715.5 2202.2,717.7 2200.0,717.0 C2197.8,716.3 2194.7,712.8 2192.0,710.0 C2189.3,707.2 2185.5,704.2 2184.0,700.0 C2182.5,695.8 2182.8,690.0 2183.0,685.0 C2183.2,680.0 2184.5,675.0 2185.0,670.0 C2185.5,665.0 2184.8,658.3 2186.0,655.0Z"/>
<path d="M2182,739 L2178,777" stroke="#6a6a6a" stroke-width="6.5" stroke-linecap="round"/>
<ellipse cx="2180.6" cy="752.3" rx="2.6" ry="3.6" fill="#d6d6d6"/>
<ellipse cx="2179.6" cy="761.8" rx="2.6" ry="3.6" fill="#d6d6d6"/>
<ellipse cx="2178.6" cy="771.3" rx="2.6" ry="3.6" fill="#d6d6d6"/>
<path d="M2191,739 L2210,776" stroke="#6a6a6a" stroke-width="6.5" stroke-linecap="round"/>
<ellipse cx="2197.7" cy="752.0" rx="2.6" ry="3.6" fill="#d6d6d6"/>
<ellipse cx="2202.4" cy="761.2" rx="2.6" ry="3.6" fill="#d6d6d6"/>
<ellipse cx="2207.2" cy="770.5" rx="2.6" ry="3.6" fill="#d6d6d6"/>
<path d="M2200,728 L2224.5,742" stroke="#6a6a6a" stroke-width="6" stroke-linecap="round"/>
<ellipse cx="2208.6" cy="732.9" rx="2.4" ry="3.3" fill="#d6d6d6"/>
<ellipse cx="2214.7" cy="736.4" rx="2.4" ry="3.3" fill="#d6d6d6"/>
<ellipse cx="2220.8" cy="739.9" rx="2.4" ry="3.3" fill="#d6d6d6"/>
<path d="M2204,719 L2220.5,719.5" stroke="#6a6a6a" stroke-width="6" stroke-linecap="round"/>
<ellipse cx="2209.8" cy="719.2" rx="2.4" ry="3.3" fill="#d6d6d6"/>
<ellipse cx="2213.9" cy="719.3" rx="2.4" ry="3.3" fill="#d6d6d6"/>
<ellipse cx="2218.0" cy="719.4" rx="2.4" ry="3.3" fill="#d6d6d6"/>
<path d="M2175,730 L2172.5,749" stroke="#6a6a6a" stroke-width="5" stroke-linecap="round"/>
<ellipse cx="2174.1" cy="736.6" rx="2.0" ry="2.8" fill="#d6d6d6"/>
<ellipse cx="2173.5" cy="741.4" rx="2.0" ry="2.8" fill="#d6d6d6"/>
<ellipse cx="2172.9" cy="746.1" rx="2.0" ry="2.8" fill="#d6d6d6"/>
<path fill="#d0d0d0" d="M2185.0,733.0 C2185.3,731.5 2189.5,730.8 2192.0,729.0 C2194.5,727.2 2198.0,722.5 2200.0,722.0 C2202.0,721.5 2204.3,724.0 2204.0,726.0 C2203.7,728.0 2200.3,732.0 2198.0,734.0 C2195.7,736.0 2192.2,738.2 2190.0,738.0 C2187.8,737.8 2184.7,734.5 2185.0,733.0Z"/></g>
</svg>

</body></html>
